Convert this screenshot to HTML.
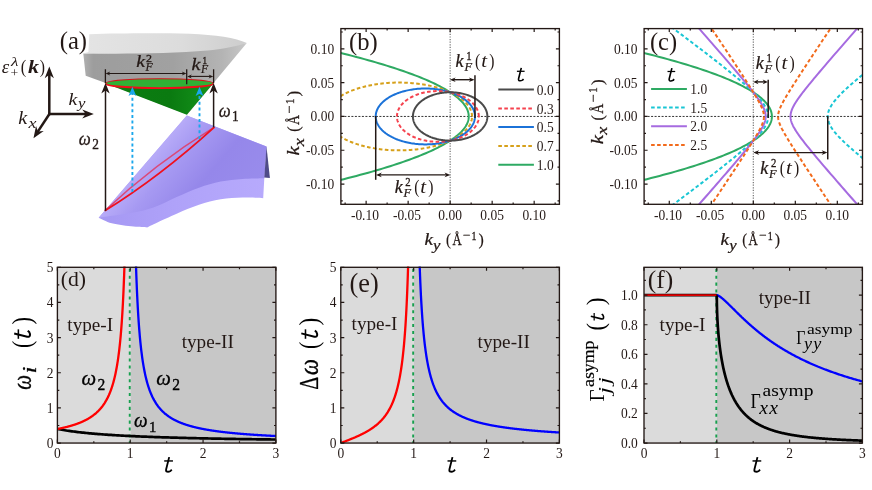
<!DOCTYPE html>
<html><head><meta charset="utf-8"><title>figure</title>
<style>html,body{margin:0;padding:0;background:#fff;}svg{display:block;font-family:"Liberation Serif",serif;}</style>
</head><body>
<svg width="872" height="490" viewBox="0 0 872 490">
<rect width="872" height="490" fill="#fff"/>
<g opacity="0.999">
<clipPath id="clipb"><rect x="340.9" y="28.6" width="218.5" height="175.7"/></clipPath>
<path d="M340.9 116.45 H559.4" stroke="#333" stroke-width="1" stroke-dasharray="2 1.5" fill="none"/>
<path d="M450.15 28.6 V204.3" stroke="#666" stroke-width="1.1" stroke-dasharray="1.2 1.4" fill="none"/>
<g clip-path="url(#clipb)" fill="none" stroke-width="2" stroke-linejoin="round">
<path d="M97.03 224.58 L104.43 223.5 L111.75 222.42 L119 221.33 L126.17 220.25 L133.27 219.17 L140.3 218.09 L147.25 217.01 L154.13 215.93 L160.93 214.85 L167.66 213.77 L174.31 212.68 L180.89 211.6 L187.4 210.52 L193.83 209.44 L200.18 208.36 L206.47 207.28 L212.67 206.2 L218.81 205.11 L224.87 204.03 L230.85 202.95 L236.76 201.87 L242.6 200.79 L248.36 199.71 L254.05 198.63 L259.66 197.55 L265.2 196.46 L270.66 195.38 L276.05 194.3 L281.37 193.22 L286.61 192.14 L291.78 191.06 L296.87 189.98 L301.89 188.9 L306.83 187.81 L311.7 186.73 L316.5 185.65 L321.22 184.57 L325.87 183.49 L330.44 182.41 L334.94 181.33 L339.36 180.25 L343.71 179.16 L347.98 178.08 L352.19 177 L356.31 175.92 L360.36 174.84 L364.34 173.76 L368.24 172.68 L372.07 171.6 L375.83 170.51 L379.51 169.43 L383.11 168.35 L386.64 167.27 L390.1 166.19 L393.48 165.11 L396.79 164.03 L400.03 162.95 L403.19 161.86 L406.27 160.78 L409.28 159.7 L412.22 158.62 L415.08 157.54 L417.87 156.46 L420.58 155.38 L423.22 154.29 L425.79 153.21 L428.28 152.13 L430.7 151.05 L433.04 149.97 L435.3 148.89 L437.5 147.81 L439.62 146.73 L441.66 145.64 L443.63 144.56 L445.53 143.48 L447.35 142.4 L449.1 141.32 L450.77 140.24 L452.37 139.16 L453.89 138.08 L455.34 136.99 L456.72 135.91 L458.02 134.83 L459.24 133.75 L460.4 132.67 L461.47 131.59 L462.48 130.51 L463.41 129.43 L464.26 128.34 L465.04 127.26 L465.75 126.18 L466.38 125.1 L466.94 124.02 L467.42 122.94 L467.83 121.86 L468.17 120.78 L468.43 119.69 L468.61 118.61 L468.72 117.53 L468.76 116.45 L468.72 115.37 L468.61 114.29 L468.43 113.21 L468.17 112.12 L467.83 111.04 L467.42 109.96 L466.94 108.88 L466.38 107.8 L465.75 106.72 L465.04 105.64 L464.26 104.56 L463.41 103.47 L462.48 102.39 L461.47 101.31 L460.4 100.23 L459.24 99.15 L458.02 98.07 L456.72 96.99 L455.34 95.91 L453.89 94.82 L452.37 93.74 L450.77 92.66 L449.1 91.58 L447.35 90.5 L445.53 89.42 L443.63 88.34 L441.66 87.26 L439.62 86.17 L437.5 85.09 L435.3 84.01 L433.04 82.93 L430.7 81.85 L428.28 80.77 L425.79 79.69 L423.22 78.61 L420.58 77.52 L417.87 76.44 L415.08 75.36 L412.22 74.28 L409.28 73.2 L406.27 72.12 L403.19 71.04 L400.03 69.95 L396.79 68.87 L393.48 67.79 L390.1 66.71 L386.64 65.63 L383.11 64.55 L379.51 63.47 L375.83 62.39 L372.07 61.3 L368.24 60.22 L364.34 59.14 L360.36 58.06 L356.31 56.98 L352.19 55.9 L347.98 54.82 L343.71 53.74 L339.36 52.65 L334.94 51.57 L330.44 50.49 L325.87 49.41 L321.22 48.33 L316.5 47.25 L311.7 46.17 L306.83 45.09 L301.89 44 L296.87 42.92 L291.78 41.84 L286.61 40.76 L281.37 39.68 L276.05 38.6 L270.66 37.52 L265.2 36.44 L259.66 35.35 L254.05 34.27 L248.36 33.19 L242.6 32.11 L236.76 31.03 L230.85 29.95 L224.87 28.87 L218.81 27.79 L212.67 26.7 L206.47 25.62 L200.18 24.54 L193.83 23.46 L187.4 22.38 L180.89 21.3 L174.31 20.22 L167.66 19.13 L160.93 18.05 L154.13 16.97 L147.25 15.89 L140.3 14.81 L133.27 13.73 L126.17 12.65 L119 11.57 L111.75 10.48 L104.43 9.4 L97.03 8.32" stroke="#2eaa63"/>
<path d="M472.04 116.45 L472.02 115.56 L471.94 114.68 L471.82 113.79 L471.64 112.91 L471.42 112.03 L471.15 111.15 L470.82 110.28 L470.45 109.41 L470.03 108.54 L469.56 107.68 L469.04 106.83 L468.47 105.98 L467.86 105.14 L467.2 104.31 L466.49 103.49 L465.73 102.67 L464.94 101.87 L464.09 101.07 L463.2 100.28 L462.27 99.51 L461.29 98.75 L460.27 98 L459.21 97.26 L458.11 96.54 L456.96 95.83 L455.78 95.13 L454.56 94.45 L453.3 93.78 L452 93.13 L450.67 92.49 L449.3 91.88 L447.9 91.27 L446.46 90.69 L444.99 90.12 L443.49 89.57 L441.96 89.04 L440.4 88.53 L438.81 88.04 L437.2 87.56 L435.55 87.11 L433.89 86.68 L432.2 86.26 L430.48 85.87 L428.75 85.5 L426.99 85.15 L425.22 84.82 L423.42 84.52 L421.62 84.23 L419.79 83.97 L417.95 83.73 L416.1 83.51 L414.24 83.31 L412.36 83.14 L410.48 82.99 L408.59 82.86 L406.69 82.76 L404.79 82.68 L402.88 82.62 L400.97 82.58 L399.06 82.57 L397.15 82.58 L395.24 82.62 L393.34 82.68 L391.43 82.76 L389.54 82.86 L387.65 82.99 L385.76 83.14 L383.89 83.31 L382.03 83.51 L380.17 83.73 L378.33 83.97 L376.51 84.23 L374.7 84.52 L372.91 84.82 L371.13 85.15 L369.38 85.5 L367.64 85.87 L365.93 86.26 L364.24 86.68 L362.57 87.11 L360.93 87.56 L359.31 88.04 L357.73 88.53 L356.16 89.04 L354.63 89.57 L353.13 90.12 L351.66 90.69 L350.23 91.27 L348.82 91.88 L347.46 92.49 L346.12 93.13 L344.83 93.78 L343.57 94.45 L342.34 95.13 L341.16 95.83 L340.02 96.54 L338.92 97.26 L337.85 98 L336.84 98.75 L335.86 99.51 L334.92 100.28 L334.04 101.07 L333.19 101.87 L332.39 102.67 L331.64 103.49 L330.93 104.31 L330.27 105.14 L329.65 105.98 L329.09 106.83 L328.57 107.68 L328.1 108.54 L327.68 109.41 L327.3 110.28 L326.98 111.15 L326.7 112.03 L326.48 112.91 L326.31 113.79 L326.18 114.68 L326.11 115.56 L326.08 116.45 L326.11 117.34 L326.18 118.22 L326.31 119.11 L326.48 119.99 L326.7 120.87 L326.98 121.75 L327.3 122.62 L327.68 123.49 L328.1 124.36 L328.57 125.22 L329.09 126.07 L329.65 126.92 L330.27 127.76 L330.93 128.59 L331.64 129.41 L332.39 130.23 L333.19 131.03 L334.04 131.83 L334.92 132.62 L335.86 133.39 L336.84 134.15 L337.85 134.9 L338.92 135.64 L340.02 136.36 L341.16 137.07 L342.34 137.77 L343.57 138.45 L344.83 139.12 L346.12 139.77 L347.46 140.41 L348.82 141.02 L350.23 141.63 L351.66 142.21 L353.13 142.78 L354.63 143.33 L356.16 143.86 L357.73 144.37 L359.31 144.86 L360.93 145.34 L362.57 145.79 L364.24 146.22 L365.93 146.64 L367.64 147.03 L369.38 147.4 L371.13 147.75 L372.91 148.08 L374.7 148.38 L376.51 148.67 L378.33 148.93 L380.17 149.17 L382.03 149.39 L383.89 149.59 L385.76 149.76 L387.65 149.91 L389.54 150.04 L391.43 150.14 L393.34 150.22 L395.24 150.28 L397.15 150.32 L399.06 150.33 L400.97 150.32 L402.88 150.28 L404.79 150.22 L406.69 150.14 L408.59 150.04 L410.48 149.91 L412.36 149.76 L414.24 149.59 L416.1 149.39 L417.95 149.17 L419.79 148.93 L421.62 148.67 L423.42 148.38 L425.22 148.08 L426.99 147.75 L428.75 147.4 L430.48 147.03 L432.2 146.64 L433.89 146.22 L435.55 145.79 L437.2 145.34 L438.81 144.86 L440.4 144.37 L441.96 143.86 L443.49 143.33 L444.99 142.78 L446.46 142.21 L447.9 141.63 L449.3 141.02 L450.67 140.41 L452 139.77 L453.3 139.12 L454.56 138.45 L455.78 137.77 L456.96 137.07 L458.11 136.36 L459.21 135.64 L460.27 134.9 L461.29 134.15 L462.27 133.39 L463.2 132.62 L464.09 131.83 L464.94 131.03 L465.73 130.23 L466.49 129.41 L467.2 128.59 L467.86 127.76 L468.47 126.92 L469.04 126.07 L469.56 125.22 L470.03 124.36 L470.45 123.49 L470.82 122.62 L471.15 121.75 L471.42 120.87 L471.64 119.99 L471.82 119.11 L471.94 118.22 L472.02 117.34 L472.04 116.45" stroke="#d6a01a" stroke-dasharray="3.6 2.4"/>
<path d="M474.96 116.45 L474.95 115.72 L474.9 114.99 L474.81 114.26 L474.69 113.53 L474.54 112.8 L474.35 112.08 L474.13 111.36 L473.88 110.64 L473.59 109.93 L473.27 109.22 L472.92 108.52 L472.53 107.82 L472.12 107.12 L471.67 106.44 L471.19 105.76 L470.67 105.09 L470.13 104.42 L469.55 103.77 L468.95 103.12 L468.32 102.48 L467.65 101.85 L466.96 101.23 L466.24 100.63 L465.49 100.03 L464.71 99.44 L463.9 98.87 L463.07 98.31 L462.22 97.76 L461.33 97.22 L460.43 96.7 L459.5 96.19 L458.54 95.69 L457.57 95.21 L456.57 94.74 L455.55 94.29 L454.51 93.85 L453.45 93.43 L452.37 93.02 L451.27 92.63 L450.15 92.26 L449.02 91.9 L447.87 91.56 L446.7 91.24 L445.52 90.93 L444.33 90.64 L443.12 90.37 L441.9 90.12 L440.67 89.88 L439.43 89.66 L438.18 89.47 L436.92 89.29 L435.65 89.12 L434.38 88.98 L433.1 88.86 L431.81 88.75 L430.52 88.67 L429.23 88.6 L427.93 88.55 L426.64 88.52 L425.34 88.51 L424.04 88.52 L422.74 88.55 L421.44 88.6 L420.15 88.67 L418.86 88.75 L417.57 88.86 L416.29 88.98 L415.02 89.12 L413.75 89.29 L412.49 89.47 L411.24 89.66 L410 89.88 L408.77 90.12 L407.55 90.37 L406.34 90.64 L405.15 90.93 L403.97 91.24 L402.81 91.56 L401.66 91.9 L400.52 92.26 L399.41 92.63 L398.31 93.02 L397.23 93.43 L396.17 93.85 L395.12 94.29 L394.1 94.74 L393.11 95.21 L392.13 95.69 L391.17 96.19 L390.24 96.7 L389.34 97.22 L388.46 97.76 L387.6 98.31 L386.77 98.87 L385.96 99.44 L385.19 100.03 L384.44 100.63 L383.71 101.23 L383.02 101.85 L382.36 102.48 L381.72 103.12 L381.12 103.77 L380.54 104.42 L380 105.09 L379.49 105.76 L379 106.44 L378.55 107.12 L378.14 107.82 L377.75 108.52 L377.4 109.22 L377.08 109.93 L376.79 110.64 L376.54 111.36 L376.32 112.08 L376.13 112.8 L375.98 113.53 L375.86 114.26 L375.78 114.99 L375.73 115.72 L375.71 116.45 L375.73 117.18 L375.78 117.91 L375.86 118.64 L375.98 119.37 L376.13 120.1 L376.32 120.82 L376.54 121.54 L376.79 122.26 L377.08 122.97 L377.4 123.68 L377.75 124.38 L378.14 125.08 L378.55 125.78 L379 126.46 L379.49 127.14 L380 127.81 L380.54 128.48 L381.12 129.13 L381.72 129.78 L382.36 130.42 L383.02 131.05 L383.71 131.67 L384.44 132.27 L385.19 132.87 L385.96 133.46 L386.77 134.03 L387.6 134.59 L388.46 135.14 L389.34 135.68 L390.24 136.2 L391.17 136.71 L392.13 137.21 L393.11 137.69 L394.1 138.16 L395.12 138.61 L396.17 139.05 L397.23 139.47 L398.31 139.88 L399.41 140.27 L400.52 140.64 L401.66 141 L402.81 141.34 L403.97 141.66 L405.15 141.97 L406.34 142.26 L407.55 142.53 L408.77 142.78 L410 143.02 L411.24 143.24 L412.49 143.43 L413.75 143.61 L415.02 143.78 L416.29 143.92 L417.57 144.04 L418.86 144.15 L420.15 144.23 L421.44 144.3 L422.74 144.35 L424.04 144.38 L425.34 144.39 L426.64 144.38 L427.93 144.35 L429.23 144.3 L430.52 144.23 L431.81 144.15 L433.1 144.04 L434.38 143.92 L435.65 143.78 L436.92 143.61 L438.18 143.43 L439.43 143.24 L440.67 143.02 L441.9 142.78 L443.12 142.53 L444.33 142.26 L445.52 141.97 L446.7 141.66 L447.87 141.34 L449.02 141 L450.15 140.64 L451.27 140.27 L452.37 139.88 L453.45 139.47 L454.51 139.05 L455.55 138.61 L456.57 138.16 L457.57 137.69 L458.54 137.21 L459.5 136.71 L460.43 136.2 L461.33 135.68 L462.22 135.14 L463.07 134.59 L463.9 134.03 L464.71 133.46 L465.49 132.87 L466.24 132.27 L466.96 131.67 L467.65 131.05 L468.32 130.42 L468.95 129.78 L469.55 129.13 L470.13 128.48 L470.67 127.81 L471.19 127.14 L471.67 126.46 L472.12 125.78 L472.53 125.08 L472.92 124.38 L473.27 123.68 L473.59 122.97 L473.88 122.26 L474.13 121.54 L474.35 120.82 L474.54 120.1 L474.69 119.37 L474.81 118.64 L474.9 117.91 L474.95 117.18 L474.96 116.45" stroke="#1b72d8"/>
<path d="M478.78 116.45 L478.77 115.79 L478.73 115.12 L478.66 114.46 L478.56 113.8 L478.43 113.14 L478.28 112.48 L478.1 111.83 L477.89 111.18 L477.65 110.53 L477.39 109.89 L477.1 109.25 L476.78 108.61 L476.44 107.98 L476.06 107.36 L475.67 106.74 L475.25 106.13 L474.8 105.53 L474.32 104.94 L473.82 104.35 L473.3 103.77 L472.75 103.2 L472.18 102.64 L471.59 102.08 L470.97 101.54 L470.33 101.01 L469.67 100.49 L468.98 99.98 L468.28 99.48 L467.55 98.99 L466.8 98.52 L466.03 98.05 L465.25 97.6 L464.44 97.16 L463.62 96.74 L462.78 96.33 L461.92 95.93 L461.05 95.55 L460.16 95.18 L459.25 94.83 L458.33 94.49 L457.4 94.16 L456.45 93.85 L455.49 93.56 L454.52 93.28 L453.53 93.02 L452.54 92.77 L451.53 92.54 L450.52 92.33 L449.5 92.13 L448.47 91.95 L447.43 91.79 L446.38 91.64 L445.33 91.51 L444.28 91.4 L443.22 91.31 L442.15 91.23 L441.09 91.17 L440.02 91.12 L438.95 91.1 L437.88 91.09 L436.81 91.1 L435.74 91.12 L434.67 91.17 L433.6 91.23 L432.54 91.31 L431.48 91.4 L430.43 91.51 L429.38 91.64 L428.33 91.79 L427.29 91.95 L426.26 92.13 L425.24 92.33 L424.23 92.54 L423.22 92.77 L422.23 93.02 L421.24 93.28 L420.27 93.56 L419.31 93.85 L418.36 94.16 L417.43 94.49 L416.51 94.83 L415.6 95.18 L414.71 95.55 L413.84 95.93 L412.98 96.33 L412.14 96.74 L411.32 97.16 L410.51 97.6 L409.72 98.05 L408.96 98.52 L408.21 98.99 L407.48 99.48 L406.78 99.98 L406.09 100.49 L405.43 101.01 L404.79 101.54 L404.17 102.08 L403.58 102.64 L403 103.2 L402.46 103.77 L401.93 104.35 L401.44 104.94 L400.96 105.53 L400.51 106.13 L400.09 106.74 L399.69 107.36 L399.32 107.98 L398.98 108.61 L398.66 109.25 L398.37 109.89 L398.11 110.53 L397.87 111.18 L397.66 111.83 L397.48 112.48 L397.33 113.14 L397.2 113.8 L397.1 114.46 L397.03 115.12 L396.99 115.79 L396.98 116.45 L396.99 117.11 L397.03 117.78 L397.1 118.44 L397.2 119.1 L397.33 119.76 L397.48 120.42 L397.66 121.07 L397.87 121.72 L398.11 122.37 L398.37 123.01 L398.66 123.65 L398.98 124.29 L399.32 124.92 L399.69 125.54 L400.09 126.16 L400.51 126.77 L400.96 127.37 L401.44 127.96 L401.93 128.55 L402.46 129.13 L403 129.7 L403.58 130.26 L404.17 130.82 L404.79 131.36 L405.43 131.89 L406.09 132.41 L406.78 132.92 L407.48 133.42 L408.21 133.91 L408.96 134.38 L409.72 134.85 L410.51 135.3 L411.32 135.74 L412.14 136.16 L412.98 136.57 L413.84 136.97 L414.71 137.35 L415.6 137.72 L416.51 138.07 L417.43 138.41 L418.36 138.74 L419.31 139.05 L420.27 139.34 L421.24 139.62 L422.23 139.88 L423.22 140.13 L424.23 140.36 L425.24 140.57 L426.26 140.77 L427.29 140.95 L428.33 141.11 L429.38 141.26 L430.43 141.39 L431.48 141.5 L432.54 141.59 L433.6 141.67 L434.67 141.73 L435.74 141.78 L436.81 141.8 L437.88 141.81 L438.95 141.8 L440.02 141.78 L441.09 141.73 L442.15 141.67 L443.22 141.59 L444.28 141.5 L445.33 141.39 L446.38 141.26 L447.43 141.11 L448.47 140.95 L449.5 140.77 L450.52 140.57 L451.53 140.36 L452.54 140.13 L453.53 139.88 L454.52 139.62 L455.49 139.34 L456.45 139.05 L457.4 138.74 L458.33 138.41 L459.25 138.07 L460.16 137.72 L461.05 137.35 L461.92 136.97 L462.78 136.57 L463.62 136.16 L464.44 135.74 L465.25 135.3 L466.03 134.85 L466.8 134.38 L467.55 133.91 L468.28 133.42 L468.98 132.92 L469.67 132.41 L470.33 131.89 L470.97 131.36 L471.59 130.82 L472.18 130.26 L472.75 129.7 L473.3 129.13 L473.82 128.55 L474.32 127.96 L474.8 127.37 L475.25 126.77 L475.67 126.16 L476.06 125.54 L476.44 124.92 L476.78 124.29 L477.1 123.65 L477.39 123.01 L477.65 122.37 L477.89 121.72 L478.1 121.07 L478.28 120.42 L478.43 119.76 L478.56 119.1 L478.66 118.44 L478.73 117.78 L478.77 117.11 L478.78 116.45" stroke="#f5424e" stroke-dasharray="3.6 2.4"/>
<path d="M487.37 116.45 L487.36 115.82 L487.32 115.18 L487.26 114.55 L487.17 113.92 L487.05 113.29 L486.91 112.67 L486.75 112.04 L486.56 111.42 L486.34 110.8 L486.1 110.19 L485.84 109.58 L485.55 108.97 L485.24 108.37 L484.9 107.78 L484.54 107.19 L484.15 106.61 L483.75 106.03 L483.31 105.47 L482.86 104.91 L482.38 104.35 L481.89 103.81 L481.37 103.27 L480.82 102.75 L480.26 102.23 L479.68 101.72 L479.08 101.22 L478.45 100.74 L477.81 100.26 L477.15 99.8 L476.47 99.34 L475.77 98.9 L475.06 98.47 L474.32 98.05 L473.57 97.65 L472.81 97.26 L472.03 96.88 L471.23 96.51 L470.42 96.16 L469.6 95.82 L468.76 95.5 L467.91 95.19 L467.05 94.89 L466.17 94.61 L465.29 94.35 L464.39 94.1 L463.49 93.86 L462.57 93.64 L461.65 93.44 L460.72 93.25 L459.78 93.08 L458.84 92.92 L457.89 92.79 L456.93 92.66 L455.97 92.55 L455.01 92.46 L454.04 92.39 L453.07 92.33 L452.1 92.29 L451.12 92.26 L450.15 92.26 L449.18 92.26 L448.2 92.29 L447.23 92.33 L446.26 92.39 L445.29 92.46 L444.33 92.55 L443.37 92.66 L442.41 92.79 L441.46 92.92 L440.52 93.08 L439.58 93.25 L438.65 93.44 L437.73 93.64 L436.81 93.86 L435.91 94.1 L435.01 94.35 L434.13 94.61 L433.25 94.89 L432.39 95.19 L431.54 95.5 L430.7 95.82 L429.88 96.16 L429.07 96.51 L428.27 96.88 L427.49 97.26 L426.73 97.65 L425.98 98.05 L425.24 98.47 L424.53 98.9 L423.83 99.34 L423.15 99.8 L422.49 100.26 L421.85 100.74 L421.22 101.22 L420.62 101.72 L420.04 102.23 L419.48 102.75 L418.93 103.27 L418.41 103.81 L417.92 104.35 L417.44 104.91 L416.99 105.47 L416.55 106.03 L416.15 106.61 L415.76 107.19 L415.4 107.78 L415.06 108.37 L414.75 108.97 L414.46 109.58 L414.2 110.19 L413.96 110.8 L413.74 111.42 L413.55 112.04 L413.39 112.67 L413.25 113.29 L413.13 113.92 L413.04 114.55 L412.98 115.18 L412.94 115.82 L412.93 116.45 L412.94 117.08 L412.98 117.72 L413.04 118.35 L413.13 118.98 L413.25 119.61 L413.39 120.23 L413.55 120.86 L413.74 121.48 L413.96 122.1 L414.2 122.71 L414.46 123.32 L414.75 123.93 L415.06 124.53 L415.4 125.12 L415.76 125.71 L416.15 126.29 L416.55 126.87 L416.99 127.43 L417.44 127.99 L417.92 128.55 L418.41 129.09 L418.93 129.63 L419.48 130.15 L420.04 130.67 L420.62 131.18 L421.22 131.68 L421.85 132.16 L422.49 132.64 L423.15 133.1 L423.83 133.56 L424.53 134 L425.24 134.43 L425.98 134.85 L426.73 135.25 L427.49 135.64 L428.27 136.02 L429.07 136.39 L429.88 136.74 L430.7 137.08 L431.54 137.4 L432.39 137.71 L433.25 138.01 L434.13 138.29 L435.01 138.55 L435.91 138.8 L436.81 139.04 L437.73 139.26 L438.65 139.46 L439.58 139.65 L440.52 139.82 L441.46 139.98 L442.41 140.11 L443.37 140.24 L444.33 140.35 L445.29 140.44 L446.26 140.51 L447.23 140.57 L448.2 140.61 L449.18 140.64 L450.15 140.64 L451.12 140.64 L452.1 140.61 L453.07 140.57 L454.04 140.51 L455.01 140.44 L455.97 140.35 L456.93 140.24 L457.89 140.11 L458.84 139.98 L459.78 139.82 L460.72 139.65 L461.65 139.46 L462.57 139.26 L463.49 139.04 L464.39 138.8 L465.29 138.55 L466.17 138.29 L467.05 138.01 L467.91 137.71 L468.76 137.4 L469.6 137.08 L470.42 136.74 L471.23 136.39 L472.03 136.02 L472.81 135.64 L473.57 135.25 L474.32 134.85 L475.06 134.43 L475.77 134 L476.47 133.56 L477.15 133.1 L477.81 132.64 L478.45 132.16 L479.08 131.68 L479.68 131.18 L480.26 130.67 L480.82 130.15 L481.37 129.63 L481.89 129.09 L482.38 128.55 L482.86 127.99 L483.31 127.43 L483.75 126.87 L484.15 126.29 L484.54 125.71 L484.9 125.12 L485.24 124.53 L485.55 123.93 L485.84 123.32 L486.1 122.71 L486.34 122.1 L486.56 121.48 L486.75 120.86 L486.91 120.23 L487.05 119.61 L487.17 118.98 L487.26 118.35 L487.32 117.72 L487.36 117.08 L487.37 116.45" stroke="#4a4a4a"/>
</g>
<path d="M366.13 204.3 v-3.5M366.13 28.6 v3.5M408.14 204.3 v-3.5M408.14 28.6 v3.5M450.15 204.3 v-3.5M450.15 28.6 v3.5M492.16 204.3 v-3.5M492.16 28.6 v3.5M534.17 204.3 v-3.5M534.17 28.6 v3.5M345.12 204.3 v-1.9M345.12 28.6 v1.9M387.13 204.3 v-1.9M387.13 28.6 v1.9M429.14 204.3 v-1.9M429.14 28.6 v1.9M471.15 204.3 v-1.9M471.15 28.6 v1.9M513.16 204.3 v-1.9M513.16 28.6 v1.9M555.17 204.3 v-1.9M555.17 28.6 v1.9M340.9 184.03 h3.5M559.4 184.03 h-3.5M340.9 150.24 h3.5M559.4 150.24 h-3.5M340.9 116.45 h3.5M559.4 116.45 h-3.5M340.9 82.66 h3.5M559.4 82.66 h-3.5M340.9 48.87 h3.5M559.4 48.87 h-3.5M340.9 200.93 h1.9M559.4 200.93 h-1.9M340.9 167.13 h1.9M559.4 167.13 h-1.9M340.9 133.34 h1.9M559.4 133.34 h-1.9M340.9 99.56 h1.9M559.4 99.56 h-1.9M340.9 65.77 h1.9M559.4 65.77 h-1.9M340.9 31.98 h1.9M559.4 31.98 h-1.9" stroke="#231815" stroke-width="1.2" fill="none"/>
<rect x="340.9" y="28.6" width="218.5" height="175.7" fill="none" stroke="#231815" stroke-width="1.35"/>
<text transform="translate(364.93 220.1) scale(0.870 1)" font-size="15.5" fill="#231815" text-anchor="middle">-0.10</text>
<text transform="translate(334.2 189.03) scale(0.870 1)" font-size="15.5" fill="#231815" text-anchor="end">-0.10</text>
<text transform="translate(406.94 220.1) scale(0.870 1)" font-size="15.5" fill="#231815" text-anchor="middle">-0.05</text>
<text transform="translate(334.2 155.24) scale(0.870 1)" font-size="15.5" fill="#231815" text-anchor="end">-0.05</text>
<text transform="translate(450.15 220.1) scale(0.870 1)" font-size="15.5" fill="#231815" text-anchor="middle">0.00</text>
<text transform="translate(334.2 121.45) scale(0.870 1)" font-size="15.5" fill="#231815" text-anchor="end">0.00</text>
<text transform="translate(492.16 220.1) scale(0.870 1)" font-size="15.5" fill="#231815" text-anchor="middle">0.05</text>
<text transform="translate(334.2 87.66) scale(0.870 1)" font-size="15.5" fill="#231815" text-anchor="end">0.05</text>
<text transform="translate(534.17 220.1) scale(0.870 1)" font-size="15.5" fill="#231815" text-anchor="middle">0.10</text>
<text transform="translate(334.2 53.87) scale(0.870 1)" font-size="15.5" fill="#231815" text-anchor="end">0.10</text>
<clipPath id="clipc"><rect x="644.1" y="28.6" width="218.4" height="175.7"/></clipPath>
<path d="M644.1 116.45 H862.5" stroke="#333" stroke-width="1" stroke-dasharray="2 1.5" fill="none"/>
<path d="M753.3 28.6 V204.3" stroke="#666" stroke-width="1.1" stroke-dasharray="1.2 1.4" fill="none"/>
<g clip-path="url(#clipc)" fill="none" stroke-width="2" stroke-linejoin="round">
<path d="M400.18 224.58 L407.58 223.5 L414.9 222.42 L422.15 221.33 L429.32 220.25 L436.42 219.17 L443.45 218.09 L450.4 217.01 L457.28 215.93 L464.08 214.85 L470.81 213.77 L477.46 212.68 L484.04 211.6 L490.55 210.52 L496.98 209.44 L503.33 208.36 L509.62 207.28 L515.82 206.2 L521.96 205.11 L528.02 204.03 L534 202.95 L539.91 201.87 L545.75 200.79 L551.51 199.71 L557.2 198.63 L562.81 197.55 L568.35 196.46 L573.81 195.38 L579.2 194.3 L584.52 193.22 L589.76 192.14 L594.93 191.06 L600.02 189.98 L605.04 188.9 L609.98 187.81 L614.85 186.73 L619.65 185.65 L624.37 184.57 L629.02 183.49 L633.59 182.41 L638.09 181.33 L642.51 180.25 L646.86 179.16 L651.13 178.08 L655.34 177 L659.46 175.92 L663.51 174.84 L667.49 173.76 L671.39 172.68 L675.22 171.6 L678.98 170.51 L682.66 169.43 L686.26 168.35 L689.79 167.27 L693.25 166.19 L696.63 165.11 L699.94 164.03 L703.18 162.95 L706.34 161.86 L709.42 160.78 L712.43 159.7 L715.37 158.62 L718.23 157.54 L721.02 156.46 L723.73 155.38 L726.37 154.29 L728.94 153.21 L731.43 152.13 L733.85 151.05 L736.19 149.97 L738.45 148.89 L740.65 147.81 L742.77 146.73 L744.81 145.64 L746.78 144.56 L748.68 143.48 L750.5 142.4 L752.25 141.32 L753.92 140.24 L755.52 139.16 L757.04 138.08 L758.49 136.99 L759.87 135.91 L761.17 134.83 L762.39 133.75 L763.55 132.67 L764.62 131.59 L765.63 130.51 L766.56 129.43 L767.41 128.34 L768.19 127.26 L768.9 126.18 L769.53 125.1 L770.09 124.02 L770.57 122.94 L770.98 121.86 L771.32 120.78 L771.58 119.69 L771.76 118.61 L771.87 117.53 L771.91 116.45 L771.87 115.37 L771.76 114.29 L771.58 113.21 L771.32 112.12 L770.98 111.04 L770.57 109.96 L770.09 108.88 L769.53 107.8 L768.9 106.72 L768.19 105.64 L767.41 104.56 L766.56 103.47 L765.63 102.39 L764.62 101.31 L763.55 100.23 L762.39 99.15 L761.17 98.07 L759.87 96.99 L758.49 95.91 L757.04 94.82 L755.52 93.74 L753.92 92.66 L752.25 91.58 L750.5 90.5 L748.68 89.42 L746.78 88.34 L744.81 87.26 L742.77 86.17 L740.65 85.09 L738.45 84.01 L736.19 82.93 L733.85 81.85 L731.43 80.77 L728.94 79.69 L726.37 78.61 L723.73 77.52 L721.02 76.44 L718.23 75.36 L715.37 74.28 L712.43 73.2 L709.42 72.12 L706.34 71.04 L703.18 69.95 L699.94 68.87 L696.63 67.79 L693.25 66.71 L689.79 65.63 L686.26 64.55 L682.66 63.47 L678.98 62.39 L675.22 61.3 L671.39 60.22 L667.49 59.14 L663.51 58.06 L659.46 56.98 L655.34 55.9 L651.13 54.82 L646.86 53.74 L642.51 52.65 L638.09 51.57 L633.59 50.49 L629.02 49.41 L624.37 48.33 L619.65 47.25 L614.85 46.17 L609.98 45.09 L605.04 44 L600.02 42.92 L594.93 41.84 L589.76 40.76 L584.52 39.68 L579.2 38.6 L573.81 37.52 L568.35 36.44 L562.81 35.35 L557.2 34.27 L551.51 33.19 L545.75 32.11 L539.91 31.03 L534 29.95 L528.02 28.87 L521.96 27.79 L515.82 26.7 L509.62 25.62 L503.33 24.54 L496.98 23.46 L490.55 22.38 L484.04 21.3 L477.46 20.22 L470.81 19.13 L464.08 18.05 L457.28 16.97 L450.4 15.89 L443.45 14.81 L436.42 13.73 L429.32 12.65 L422.15 11.57 L414.9 10.48 L407.58 9.4 L400.18 8.32" stroke="#2eaa63"/>
<path d="M604.22 255.58 L611.73 250.05 L618.93 244.75 L625.85 239.64 L632.5 234.74 L638.88 230.02 L645 225.48 L650.88 221.12 L656.53 216.93 L661.95 212.9 L667.15 209.02 L672.14 205.29 L676.93 201.7 L681.53 198.25 L685.94 194.93 L690.17 191.74 L694.23 188.66 L698.12 185.71 L701.86 182.86 L705.43 180.12 L708.87 177.48 L712.15 174.94 L715.31 172.49 L718.33 170.13 L721.22 167.86 L723.99 165.67 L726.64 163.55 L729.17 161.52 L731.6 159.55 L733.92 157.66 L736.14 155.83 L738.25 154.06 L740.28 152.36 L742.21 150.71 L744.05 149.11 L745.8 147.57 L747.48 146.08 L749.07 144.64 L750.58 143.24 L752.02 141.88 L753.38 140.57 L754.67 139.29 L755.9 138.05 L757.05 136.84 L758.14 135.67 L759.17 134.53 L760.13 133.41 L761.03 132.33 L761.88 131.26 L762.67 130.23 L763.4 129.21 L764.07 128.22 L764.69 127.24 L765.26 126.28 L765.77 125.34 L766.24 124.41 L766.65 123.49 L767.01 122.59 L767.33 121.69 L767.59 120.81 L767.81 119.93 L767.97 119.05 L768.09 118.18 L768.16 117.32 L768.19 116.45 L768.16 115.58 L768.09 114.72 L767.97 113.85 L767.81 112.97 L767.59 112.09 L767.33 111.21 L767.01 110.31 L766.65 109.41 L766.24 108.49 L765.77 107.56 L765.26 106.62 L764.69 105.66 L764.07 104.68 L763.4 103.69 L762.67 102.67 L761.88 101.64 L761.03 100.57 L760.13 99.49 L759.17 98.37 L758.14 97.23 L757.05 96.06 L755.9 94.85 L754.67 93.61 L753.38 92.33 L752.02 91.02 L750.58 89.66 L749.07 88.26 L747.48 86.82 L745.8 85.33 L744.05 83.79 L742.21 82.19 L740.28 80.54 L738.25 78.84 L736.14 77.07 L733.92 75.24 L731.6 73.35 L729.17 71.38 L726.64 69.35 L723.99 67.23 L721.22 65.04 L718.33 62.77 L715.31 60.41 L712.15 57.96 L708.87 55.42 L705.43 52.78 L701.86 50.04 L698.12 47.19 L694.23 44.24 L690.17 41.16 L685.94 37.97 L681.53 34.65 L676.93 31.2 L672.14 27.61 L667.15 23.88 L661.95 20 L656.53 15.97 L650.88 11.78 L645 7.42 L638.88 2.88 L632.5 -1.84 L625.85 -6.74 L618.93 -11.85 L611.73 -17.15 L604.22 -22.68" stroke="#19c6d4" stroke-dasharray="3.6 2.4"/>
<path d="M963.43 234.74 L957.05 230.02 L950.93 225.48 L945.05 221.12 L939.4 216.93 L933.98 212.9 L928.78 209.02 L923.79 205.29 L919 201.7 L914.4 198.25 L909.99 194.93 L905.76 191.74 L901.7 188.66 L897.81 185.71 L894.07 182.86 L890.5 180.12 L887.06 177.48 L883.78 174.94 L880.62 172.49 L877.61 170.13 L874.71 167.86 L871.94 165.67 L869.29 163.55 L866.76 161.52 L864.33 159.55 L862.01 157.66 L859.79 155.83 L857.68 154.06 L855.65 152.36 L853.72 150.71 L851.88 149.11 L850.13 147.57 L848.45 146.08 L846.86 144.64 L845.35 143.24 L843.91 141.88 L842.55 140.57 L841.26 139.29 L840.03 138.05 L838.88 136.84 L837.79 135.67 L836.76 134.53 L835.8 133.41 L834.9 132.33 L834.05 131.26 L833.26 130.23 L832.53 129.21 L831.86 128.22 L831.24 127.24 L830.67 126.28 L830.16 125.34 L829.69 124.41 L829.28 123.49 L828.92 122.59 L828.6 121.69 L828.34 120.81 L828.12 119.93 L827.96 119.05 L827.84 118.18 L827.77 117.32 L827.74 116.45 L827.77 115.58 L827.84 114.72 L827.96 113.85 L828.12 112.97 L828.34 112.09 L828.6 111.21 L828.92 110.31 L829.28 109.41 L829.69 108.49 L830.16 107.56 L830.67 106.62 L831.24 105.66 L831.86 104.68 L832.53 103.69 L833.26 102.67 L834.05 101.64 L834.9 100.57 L835.8 99.49 L836.76 98.37 L837.79 97.23 L838.88 96.06 L840.03 94.85 L841.26 93.61 L842.55 92.33 L843.91 91.02 L845.35 89.66 L846.86 88.26 L848.45 86.82 L850.13 85.33 L851.88 83.79 L853.72 82.19 L855.65 80.54 L857.68 78.84 L859.79 77.07 L862.01 75.24 L864.33 73.35 L866.76 71.38 L869.29 69.35 L871.94 67.23 L874.71 65.04 L877.61 62.77 L880.62 60.41 L883.78 57.96 L887.06 55.42 L890.5 52.78 L894.07 50.04 L897.81 47.19 L901.7 44.24 L905.76 41.16 L909.99 37.97 L914.4 34.65 L919 31.2 L923.79 27.61 L928.78 23.88 L933.98 20 L939.4 15.97 L945.05 11.78 L950.93 7.42 L957.05 2.88 L963.43 -1.84" stroke="#19c6d4" stroke-dasharray="3.6 2.4"/>
<path d="M653.2 256.38 L658.08 250.87 L662.76 245.57 L667.26 240.47 L671.57 235.58 L675.72 230.88 L679.71 226.36 L683.53 222.01 L687.21 217.83 L690.74 213.82 L694.13 209.96 L697.39 206.26 L700.51 202.69 L703.52 199.26 L706.4 195.97 L709.17 192.8 L711.83 189.76 L714.38 186.83 L716.83 184.02 L719.18 181.31 L721.44 178.71 L723.61 176.2 L725.69 173.8 L727.68 171.48 L729.6 169.25 L731.44 167.11 L733.2 165.05 L734.89 163.06 L736.51 161.15 L738.07 159.32 L739.56 157.55 L740.99 155.84 L742.36 154.2 L743.67 152.62 L744.93 151.1 L746.14 149.63 L747.29 148.22 L748.39 146.86 L749.45 145.54 L750.46 144.27 L751.43 143.05 L752.35 141.87 L753.23 140.73 L754.08 139.63 L754.88 138.56 L755.65 137.53 L756.38 136.54 L757.08 135.58 L757.74 134.64 L758.37 133.74 L758.97 132.87 L759.54 132.02 L760.08 131.19 L760.58 130.39 L761.07 129.61 L761.52 128.86 L761.95 128.12 L762.35 127.4 L762.73 126.7 L763.08 126.01 L763.41 125.34 L763.71 124.69 L763.99 124.05 L764.25 123.42 L764.49 122.8 L764.7 122.19 L764.89 121.59 L765.07 121 L765.22 120.41 L765.35 119.83 L765.46 119.26 L765.55 118.69 L765.62 118.13 L765.67 117.57 L765.7 117.01 L765.71 116.45 L765.7 115.89 L765.67 115.33 L765.62 114.77 L765.55 114.21 L765.46 113.64 L765.35 113.07 L765.22 112.49 L765.07 111.9 L764.89 111.31 L764.7 110.71 L764.49 110.1 L764.25 109.48 L763.99 108.85 L763.71 108.21 L763.41 107.56 L763.08 106.89 L762.73 106.2 L762.35 105.5 L761.95 104.78 L761.52 104.04 L761.07 103.29 L760.58 102.51 L760.08 101.71 L759.54 100.88 L758.97 100.03 L758.37 99.16 L757.74 98.26 L757.08 97.32 L756.38 96.36 L755.65 95.37 L754.88 94.34 L754.08 93.27 L753.23 92.17 L752.35 91.03 L751.43 89.85 L750.46 88.63 L749.45 87.36 L748.39 86.04 L747.29 84.68 L746.14 83.27 L744.93 81.8 L743.67 80.28 L742.36 78.7 L740.99 77.06 L739.56 75.35 L738.07 73.58 L736.51 71.75 L734.89 69.84 L733.2 67.85 L731.44 65.79 L729.6 63.65 L727.68 61.42 L725.69 59.1 L723.61 56.7 L721.44 54.19 L719.18 51.59 L716.83 48.88 L714.38 46.07 L711.83 43.14 L709.17 40.1 L706.4 36.93 L703.52 33.64 L700.51 30.21 L697.39 26.64 L694.13 22.94 L690.74 19.08 L687.21 15.07 L683.53 10.89 L679.71 6.54 L675.72 2.02 L671.57 -2.68 L667.26 -7.57 L662.76 -12.67 L658.08 -17.97 L653.2 -23.48" stroke="#a66be0"/>
<path d="M903.02 256.38 L898.15 250.87 L893.47 245.57 L888.97 240.47 L884.65 235.58 L880.51 230.88 L876.52 226.36 L872.69 222.01 L869.02 217.83 L865.49 213.82 L862.1 209.96 L858.84 206.26 L855.71 202.69 L852.71 199.26 L849.83 195.97 L847.06 192.8 L844.4 189.76 L841.85 186.83 L839.4 184.02 L837.05 181.31 L834.79 178.71 L832.62 176.2 L830.54 173.8 L828.54 171.48 L826.63 169.25 L824.79 167.11 L823.03 165.05 L821.34 163.06 L819.72 161.15 L818.16 159.32 L816.67 157.55 L815.24 155.84 L813.87 154.2 L812.56 152.62 L811.3 151.1 L810.09 149.63 L808.94 148.22 L807.83 146.86 L806.78 145.54 L805.77 144.27 L804.8 143.05 L803.88 141.87 L802.99 140.73 L802.15 139.63 L801.35 138.56 L800.58 137.53 L799.85 136.54 L799.15 135.58 L798.49 134.64 L797.86 133.74 L797.26 132.87 L796.69 132.02 L796.15 131.19 L795.64 130.39 L795.16 129.61 L794.71 128.86 L794.28 128.12 L793.88 127.4 L793.5 126.7 L793.15 126.01 L792.82 125.34 L792.52 124.69 L792.24 124.05 L791.98 123.42 L791.74 122.8 L791.53 122.19 L791.33 121.59 L791.16 121 L791.01 120.41 L790.88 119.83 L790.77 119.26 L790.68 118.69 L790.61 118.13 L790.56 117.57 L790.53 117.01 L790.52 116.45 L790.53 115.89 L790.56 115.33 L790.61 114.77 L790.68 114.21 L790.77 113.64 L790.88 113.07 L791.01 112.49 L791.16 111.9 L791.33 111.31 L791.53 110.71 L791.74 110.1 L791.98 109.48 L792.24 108.85 L792.52 108.21 L792.82 107.56 L793.15 106.89 L793.5 106.2 L793.88 105.5 L794.28 104.78 L794.71 104.04 L795.16 103.29 L795.64 102.51 L796.15 101.71 L796.69 100.88 L797.26 100.03 L797.86 99.16 L798.49 98.26 L799.15 97.32 L799.85 96.36 L800.58 95.37 L801.35 94.34 L802.15 93.27 L802.99 92.17 L803.88 91.03 L804.8 89.85 L805.77 88.63 L806.78 87.36 L807.83 86.04 L808.94 84.68 L810.09 83.27 L811.3 81.8 L812.56 80.28 L813.87 78.7 L815.24 77.06 L816.67 75.35 L818.16 73.58 L819.72 71.75 L821.34 69.84 L823.03 67.85 L824.79 65.79 L826.63 63.65 L828.54 61.42 L830.54 59.1 L832.62 56.7 L834.79 54.19 L837.05 51.59 L839.4 48.88 L841.85 46.07 L844.4 43.14 L847.06 40.1 L849.83 36.93 L852.71 33.64 L855.71 30.21 L858.84 26.64 L862.1 22.94 L865.49 19.08 L869.02 15.07 L872.69 10.89 L876.52 6.54 L880.51 2.02 L884.65 -2.68 L888.97 -7.57 L893.47 -12.67 L898.15 -17.97 L903.02 -23.48" stroke="#a66be0"/>
<path d="M676.68 256.56 L680.37 251.05 L683.92 245.75 L687.32 240.67 L690.59 235.78 L693.73 231.08 L696.75 226.57 L699.65 222.23 L702.43 218.06 L705.11 214.05 L707.68 210.2 L710.14 206.5 L712.51 202.95 L714.79 199.53 L716.98 196.25 L719.08 193.09 L721.1 190.06 L723.03 187.14 L724.89 184.34 L726.68 181.64 L728.4 179.05 L730.05 176.56 L731.63 174.17 L733.15 171.87 L734.6 169.65 L736 167.53 L737.35 165.48 L738.64 163.51 L739.88 161.62 L741.07 159.8 L742.21 158.05 L743.3 156.37 L744.35 154.75 L745.36 153.19 L746.33 151.69 L747.25 150.24 L748.14 148.85 L748.99 147.52 L749.81 146.23 L750.59 144.99 L751.34 143.79 L752.06 142.64 L752.75 141.53 L753.41 140.46 L754.04 139.43 L754.64 138.44 L755.22 137.48 L755.78 136.56 L756.3 135.66 L756.81 134.8 L757.29 133.97 L757.75 133.17 L758.19 132.39 L758.61 131.64 L759 130.91 L759.38 130.2 L759.74 129.52 L760.08 128.86 L760.41 128.22 L760.72 127.59 L761.01 126.99 L761.28 126.4 L761.54 125.83 L761.79 125.27 L762.02 124.73 L762.23 124.2 L762.43 123.68 L762.62 123.17 L762.79 122.68 L762.95 122.19 L763.1 121.72 L763.24 121.25 L763.36 120.79 L763.47 120.33 L763.57 119.89 L763.65 119.45 L763.73 119.01 L763.79 118.58 L763.84 118.15 L763.88 117.72 L763.91 117.3 L763.93 116.87 L763.93 116.45 L763.93 116.03 L763.91 115.6 L763.88 115.18 L763.84 114.75 L763.79 114.32 L763.73 113.89 L763.65 113.45 L763.57 113.01 L763.47 112.57 L763.36 112.11 L763.24 111.65 L763.1 111.18 L762.95 110.71 L762.79 110.22 L762.62 109.73 L762.43 109.22 L762.23 108.7 L762.02 108.17 L761.79 107.63 L761.54 107.07 L761.28 106.5 L761.01 105.91 L760.72 105.31 L760.41 104.68 L760.08 104.04 L759.74 103.38 L759.38 102.7 L759 101.99 L758.61 101.26 L758.19 100.51 L757.75 99.73 L757.29 98.93 L756.81 98.1 L756.3 97.24 L755.78 96.34 L755.22 95.42 L754.64 94.46 L754.04 93.47 L753.41 92.44 L752.75 91.37 L752.06 90.26 L751.34 89.11 L750.59 87.91 L749.81 86.67 L748.99 85.38 L748.14 84.05 L747.25 82.66 L746.33 81.21 L745.36 79.71 L744.35 78.15 L743.3 76.53 L742.21 74.85 L741.07 73.1 L739.88 71.28 L738.64 69.39 L737.35 67.42 L736 65.37 L734.6 63.25 L733.15 61.03 L731.63 58.73 L730.05 56.34 L728.4 53.85 L726.68 51.26 L724.89 48.56 L723.03 45.76 L721.1 42.84 L719.08 39.81 L716.98 36.65 L714.79 33.37 L712.51 29.95 L710.14 26.4 L707.68 22.7 L705.11 18.85 L702.43 14.84 L699.65 10.67 L696.75 6.33 L693.73 1.82 L690.59 -2.88 L687.32 -7.77 L683.92 -12.85 L680.37 -18.15 L676.68 -23.66" stroke="#f26a1b" stroke-dasharray="3.6 2.4"/>
<path d="M865.36 256.56 L861.68 251.05 L858.13 245.75 L854.73 240.67 L851.46 235.78 L848.32 231.08 L845.3 226.57 L842.4 222.23 L839.62 218.06 L836.94 214.05 L834.37 210.2 L831.9 206.5 L829.53 202.95 L827.26 199.53 L825.07 196.25 L822.97 193.09 L820.95 190.06 L819.01 187.14 L817.15 184.34 L815.37 181.64 L813.65 179.05 L812 176.56 L810.42 174.17 L808.9 171.87 L807.44 169.65 L806.04 167.53 L804.7 165.48 L803.41 163.51 L802.17 161.62 L800.98 159.8 L799.84 158.05 L798.75 156.37 L797.7 154.75 L796.69 153.19 L795.72 151.69 L794.8 150.24 L793.91 148.85 L793.06 147.52 L792.24 146.23 L791.46 144.99 L790.7 143.79 L789.99 142.64 L789.3 141.53 L788.64 140.46 L788.01 139.43 L787.4 138.44 L786.83 137.48 L786.27 136.56 L785.75 135.66 L785.24 134.8 L784.76 133.97 L784.3 133.17 L783.86 132.39 L783.44 131.64 L783.05 130.91 L782.67 130.2 L782.31 129.52 L781.96 128.86 L781.64 128.22 L781.33 127.59 L781.04 126.99 L780.77 126.4 L780.51 125.83 L780.26 125.27 L780.03 124.73 L779.82 124.2 L779.62 123.68 L779.43 123.17 L779.25 122.68 L779.09 122.19 L778.95 121.72 L778.81 121.25 L778.69 120.79 L778.58 120.33 L778.48 119.89 L778.39 119.45 L778.32 119.01 L778.26 118.58 L778.2 118.15 L778.17 117.72 L778.14 117.3 L778.12 116.87 L778.11 116.45 L778.12 116.03 L778.14 115.6 L778.17 115.18 L778.2 114.75 L778.26 114.32 L778.32 113.89 L778.39 113.45 L778.48 113.01 L778.58 112.57 L778.69 112.11 L778.81 111.65 L778.95 111.18 L779.09 110.71 L779.25 110.22 L779.43 109.73 L779.62 109.22 L779.82 108.7 L780.03 108.17 L780.26 107.63 L780.51 107.07 L780.77 106.5 L781.04 105.91 L781.33 105.31 L781.64 104.68 L781.96 104.04 L782.31 103.38 L782.67 102.7 L783.05 101.99 L783.44 101.26 L783.86 100.51 L784.3 99.73 L784.76 98.93 L785.24 98.1 L785.75 97.24 L786.27 96.34 L786.83 95.42 L787.4 94.46 L788.01 93.47 L788.64 92.44 L789.3 91.37 L789.99 90.26 L790.7 89.11 L791.46 87.91 L792.24 86.67 L793.06 85.38 L793.91 84.05 L794.8 82.66 L795.72 81.21 L796.69 79.71 L797.7 78.15 L798.75 76.53 L799.84 74.85 L800.98 73.1 L802.17 71.28 L803.41 69.39 L804.7 67.42 L806.04 65.37 L807.44 63.25 L808.9 61.03 L810.42 58.73 L812 56.34 L813.65 53.85 L815.37 51.26 L817.15 48.56 L819.01 45.76 L820.95 42.84 L822.97 39.81 L825.07 36.65 L827.26 33.37 L829.53 29.95 L831.9 26.4 L834.37 22.7 L836.94 18.85 L839.62 14.84 L842.4 10.67 L845.3 6.33 L848.32 1.82 L851.46 -2.88 L854.73 -7.77 L858.13 -12.85 L861.68 -18.15 L865.36 -23.66" stroke="#f26a1b" stroke-dasharray="3.6 2.4"/>
</g>
<path d="M669.28 204.3 v-3.5M669.28 28.6 v3.5M711.29 204.3 v-3.5M711.29 28.6 v3.5M753.3 204.3 v-3.5M753.3 28.6 v3.5M795.31 204.3 v-3.5M795.31 28.6 v3.5M837.32 204.3 v-3.5M837.32 28.6 v3.5M648.27 204.3 v-1.9M648.27 28.6 v1.9M690.28 204.3 v-1.9M690.28 28.6 v1.9M732.29 204.3 v-1.9M732.29 28.6 v1.9M774.3 204.3 v-1.9M774.3 28.6 v1.9M816.31 204.3 v-1.9M816.31 28.6 v1.9M858.32 204.3 v-1.9M858.32 28.6 v1.9M644.1 184.03 h3.5M862.5 184.03 h-3.5M644.1 150.24 h3.5M862.5 150.24 h-3.5M644.1 116.45 h3.5M862.5 116.45 h-3.5M644.1 82.66 h3.5M862.5 82.66 h-3.5M644.1 48.87 h3.5M862.5 48.87 h-3.5M644.1 200.93 h1.9M862.5 200.93 h-1.9M644.1 167.13 h1.9M862.5 167.13 h-1.9M644.1 133.34 h1.9M862.5 133.34 h-1.9M644.1 99.56 h1.9M862.5 99.56 h-1.9M644.1 65.77 h1.9M862.5 65.77 h-1.9M644.1 31.98 h1.9M862.5 31.98 h-1.9" stroke="#231815" stroke-width="1.2" fill="none"/>
<rect x="644.1" y="28.6" width="218.4" height="175.7" fill="none" stroke="#231815" stroke-width="1.35"/>
<text transform="translate(668.08 220.1) scale(0.870 1)" font-size="15.5" fill="#231815" text-anchor="middle">-0.10</text>
<text transform="translate(637.6 189.03) scale(0.870 1)" font-size="15.5" fill="#231815" text-anchor="end">-0.10</text>
<text transform="translate(710.09 220.1) scale(0.870 1)" font-size="15.5" fill="#231815" text-anchor="middle">-0.05</text>
<text transform="translate(637.6 155.24) scale(0.870 1)" font-size="15.5" fill="#231815" text-anchor="end">-0.05</text>
<text transform="translate(753.3 220.1) scale(0.870 1)" font-size="15.5" fill="#231815" text-anchor="middle">0.00</text>
<text transform="translate(637.6 121.45) scale(0.870 1)" font-size="15.5" fill="#231815" text-anchor="end">0.00</text>
<text transform="translate(795.31 220.1) scale(0.870 1)" font-size="15.5" fill="#231815" text-anchor="middle">0.05</text>
<text transform="translate(637.6 87.66) scale(0.870 1)" font-size="15.5" fill="#231815" text-anchor="end">0.05</text>
<text transform="translate(837.32 220.1) scale(0.870 1)" font-size="15.5" fill="#231815" text-anchor="middle">0.10</text>
<text transform="translate(637.6 53.87) scale(0.870 1)" font-size="15.5" fill="#231815" text-anchor="end">0.10</text>
<text transform="translate(349 49.6) scale(0.985 1)" font-size="25" fill="#231815">(b)</text>
<text transform="translate(649.9 49.6) scale(0.980 1)" font-size="25" fill="#231815">(c)</text>
<path d="M474.96 75.3 V118" stroke="#231815" stroke-width="1.5" fill="none"/>
<path d="M452.35 79.7 H472.16" stroke="#231815" stroke-width="1.4" fill="none"/>
<path d="M449.85 79.7 L455.65 77.4 L453.91 79.7 L455.65 82 Z" fill="#231815"/>
<path d="M474.66 79.7 L468.86 82 L470.6 79.7 L468.86 77.4 Z" fill="#231815"/>
<text transform="translate(455.6 66.8) scale(1.001 1)" font-size="18" fill="#231815" font-style="italic" stroke="#231815" stroke-width="0.25">k</text>
<text transform="translate(464.4 70.7) scale(1.047 1)" font-size="11.88" fill="#231815" font-style="italic" stroke="#231815" stroke-width="0.25">F</text>
<text transform="translate(466.2 59.8) scale(0.909 1)" font-size="11.88" fill="#231815" stroke="#231815" stroke-width="0.3">1</text>
<text transform="translate(475.1 66.8) scale(0.867 1)" font-size="18" fill="#231815">(</text>
<text transform="translate(481.2 66.8) scale(1.160 1)" font-size="18" fill="#231815" font-style="italic">t</text>
<text transform="translate(489.2 66.8) scale(0.867 1)" font-size="18" fill="#231815">)</text>
<path d="M375.71 116 V179.8" stroke="#231815" stroke-width="1.5" fill="none"/>
<path d="M378.51 174.9 H447.85" stroke="#231815" stroke-width="1.4" fill="none"/>
<path d="M376.01 174.9 L381.81 172.6 L380.07 174.9 L381.81 177.2 Z" fill="#231815"/>
<path d="M450.35 174.9 L444.55 177.2 L446.29 174.9 L444.55 172.6 Z" fill="#231815"/>
<text transform="translate(394.7 193.4) scale(1.001 1)" font-size="18" fill="#231815" font-style="italic" stroke="#231815" stroke-width="0.25">k</text>
<text transform="translate(403.5 197.3) scale(1.047 1)" font-size="11.88" fill="#231815" font-style="italic" stroke="#231815" stroke-width="0.25">F</text>
<text transform="translate(405.3 186.4) scale(0.909 1)" font-size="11.88" fill="#231815" stroke="#231815" stroke-width="0.3">2</text>
<text transform="translate(414.2 193.4) scale(0.867 1)" font-size="18" fill="#231815">(</text>
<text transform="translate(420.3 193.4) scale(1.160 1)" font-size="18" fill="#231815" font-style="italic">t</text>
<text transform="translate(428.3 193.4) scale(0.867 1)" font-size="18" fill="#231815">)</text>
<path d="M768.19 79.7 V118" stroke="#231815" stroke-width="1.5" fill="none"/>
<path d="M755.8 81.9 H765.39" stroke="#231815" stroke-width="1.4" fill="none"/>
<path d="M753.3 81.9 L758.5 79.6 L756.94 81.9 L758.5 84.2 Z" fill="#231815"/>
<path d="M767.89 81.9 L762.69 84.2 L764.25 81.9 L762.69 79.6 Z" fill="#231815"/>
<text transform="translate(755.8 69) scale(1.001 1)" font-size="18" fill="#231815" font-style="italic" stroke="#231815" stroke-width="0.25">k</text>
<text transform="translate(764.6 72.9) scale(1.047 1)" font-size="11.88" fill="#231815" font-style="italic" stroke="#231815" stroke-width="0.25">F</text>
<text transform="translate(766.4 62) scale(0.909 1)" font-size="11.88" fill="#231815" stroke="#231815" stroke-width="0.3">1</text>
<text transform="translate(775.3 69) scale(0.867 1)" font-size="18" fill="#231815">(</text>
<text transform="translate(781.4 69) scale(1.160 1)" font-size="18" fill="#231815" font-style="italic">t</text>
<text transform="translate(789.4 69) scale(0.867 1)" font-size="18" fill="#231815">)</text>
<path d="M827.74 116 V159.4" stroke="#231815" stroke-width="1.5" fill="none"/>
<path d="M755.8 152.6 H824.94" stroke="#231815" stroke-width="1.4" fill="none"/>
<path d="M753.3 152.6 L759.1 150.3 L757.36 152.6 L759.1 154.9 Z" fill="#231815"/>
<path d="M827.44 152.6 L821.64 154.9 L823.38 152.6 L821.64 150.3 Z" fill="#231815"/>
<text transform="translate(760.3 173.8) scale(1.001 1)" font-size="18" fill="#231815" font-style="italic" stroke="#231815" stroke-width="0.25">k</text>
<text transform="translate(769.1 177.7) scale(1.047 1)" font-size="11.88" fill="#231815" font-style="italic" stroke="#231815" stroke-width="0.25">F</text>
<text transform="translate(770.9 166.8) scale(0.909 1)" font-size="11.88" fill="#231815" stroke="#231815" stroke-width="0.3">2</text>
<text transform="translate(779.8 173.8) scale(0.867 1)" font-size="18" fill="#231815">(</text>
<text transform="translate(785.9 173.8) scale(1.160 1)" font-size="18" fill="#231815" font-style="italic">t</text>
<text transform="translate(793.9 173.8) scale(0.867 1)" font-size="18" fill="#231815">)</text>
<path d="M498.3 89.6 H533.9" stroke="#4a4a4a" stroke-width="2" fill="none"/>
<text transform="translate(536.8 94.7) scale(0.870 1)" font-size="15.5" fill="#231815">0.0</text>
<path d="M498.3 108.4 H533.9" stroke="#f5424e" stroke-width="2" fill="none" stroke-dasharray="3.6 2.4"/>
<text transform="translate(536.8 113.5) scale(0.870 1)" font-size="15.5" fill="#231815">0.3</text>
<path d="M498.3 127.1 H533.9" stroke="#1b72d8" stroke-width="2" fill="none"/>
<text transform="translate(536.8 132.2) scale(0.870 1)" font-size="15.5" fill="#231815">0.5</text>
<path d="M498.3 145.9 H533.9" stroke="#d6a01a" stroke-width="2" fill="none" stroke-dasharray="3.6 2.4"/>
<text transform="translate(536.8 151) scale(0.870 1)" font-size="15.5" fill="#231815">0.7</text>
<path d="M498.3 164.7 H533.9" stroke="#2eaa63" stroke-width="2" fill="none"/>
<text transform="translate(536.8 169.8) scale(0.870 1)" font-size="15.5" fill="#231815">1.0</text>
<path d="M521.29 67.9 L518.63 78.54 C517.96 81.2 520.49 81.2 522.49 80.14 L523.55 78.94" stroke="#000" stroke-width="1.62" fill="none" stroke-linejoin="round"/>
<path d="M516.9 71.29 L524.61 71.29" stroke="#000" stroke-width="1.26" fill="none"/>
<path d="M651.1 89 H686.9" stroke="#2eaa63" stroke-width="2" fill="none"/>
<text transform="translate(690.3 94.1) scale(0.870 1)" font-size="15.5" fill="#231815">1.0</text>
<path d="M651.1 107.6 H686.9" stroke="#19c6d4" stroke-width="2" fill="none" stroke-dasharray="3.6 2.4"/>
<text transform="translate(690.3 112.7) scale(0.870 1)" font-size="15.5" fill="#231815">1.5</text>
<path d="M651.1 126.3 H686.9" stroke="#a66be0" stroke-width="2" fill="none"/>
<text transform="translate(690.3 131.4) scale(0.870 1)" font-size="15.5" fill="#231815">2.0</text>
<path d="M651.1 144.9 H686.9" stroke="#f26a1b" stroke-width="2" fill="none" stroke-dasharray="3.6 2.4"/>
<text transform="translate(690.3 150) scale(0.870 1)" font-size="15.5" fill="#231815">2.5</text>
<path d="M671.89 68.1 L669.23 78.74 C668.56 81.4 671.09 81.4 673.09 80.34 L674.15 79.14" stroke="#000" stroke-width="1.62" fill="none" stroke-linejoin="round"/>
<path d="M667.5 71.49 L675.21 71.49" stroke="#000" stroke-width="1.26" fill="none"/>
<g transform="translate(424.4 244.7)">
<text transform="translate(0 0) scale(1.094 1)" font-size="17.5" fill="#231815" font-style="italic" stroke="#231815" stroke-width="0.25">k</text>
<text transform="translate(8.6 4.8) scale(1.191 1)" font-size="14" fill="#231815" font-style="italic" stroke="#231815" stroke-width="0.25">y</text>
<text transform="translate(21.7 0) scale(0.841 1)" font-size="17.5" fill="#231815" stroke="#231815" stroke-width="0.2">(</text>
<text transform="translate(28 0) scale(0.728 1)" font-size="17.5" fill="#231815" stroke="#231815" stroke-width="0.3">Å</text>
<text transform="translate(38.6 -5.6) scale(1.093 1)" font-size="12" fill="#231815" stroke="#231815" stroke-width="0.3">−</text>
<text transform="translate(47.2 -5.2) scale(0.847 1)" font-size="11.8" fill="#231815" stroke="#231815" stroke-width="0.3">1</text>
<text transform="translate(54.2 0) scale(0.909 1)" font-size="17.5" fill="#231815" stroke="#231815" stroke-width="0.2">)</text>
</g>
<g transform="translate(720.6 244.7)">
<text transform="translate(0 0) scale(1.094 1)" font-size="17.5" fill="#231815" font-style="italic" stroke="#231815" stroke-width="0.25">k</text>
<text transform="translate(8.6 4.8) scale(1.191 1)" font-size="14" fill="#231815" font-style="italic" stroke="#231815" stroke-width="0.25">y</text>
<text transform="translate(21.7 0) scale(0.841 1)" font-size="17.5" fill="#231815" stroke="#231815" stroke-width="0.2">(</text>
<text transform="translate(28 0) scale(0.728 1)" font-size="17.5" fill="#231815" stroke="#231815" stroke-width="0.3">Å</text>
<text transform="translate(38.6 -5.6) scale(1.093 1)" font-size="12" fill="#231815" stroke="#231815" stroke-width="0.3">−</text>
<text transform="translate(47.2 -5.2) scale(0.847 1)" font-size="11.8" fill="#231815" stroke="#231815" stroke-width="0.3">1</text>
<text transform="translate(54.2 0) scale(0.909 1)" font-size="17.5" fill="#231815" stroke="#231815" stroke-width="0.2">)</text>
</g>
<g transform="translate(298.7 155.5) rotate(-90)">
<text transform="translate(0 0) scale(1.193 1)" font-size="17.5" fill="#231815" font-style="italic" stroke="#231815" stroke-width="0.25">k</text>
<text transform="translate(9.37 4.8) scale(1.298 1)" font-size="14" fill="#231815" font-style="italic" stroke="#231815" stroke-width="0.25">x</text>
<text transform="translate(23.65 0) scale(0.916 1)" font-size="17.5" fill="#231815" stroke="#231815" stroke-width="0.2">(</text>
<text transform="translate(30.52 0) scale(0.793 1)" font-size="17.5" fill="#231815" stroke="#231815" stroke-width="0.3">Å</text>
<text transform="translate(42.07 -5.6) scale(1.192 1)" font-size="12" fill="#231815" stroke="#231815" stroke-width="0.3">−</text>
<text transform="translate(51.45 -5.2) scale(0.924 1)" font-size="11.8" fill="#231815" stroke="#231815" stroke-width="0.3">1</text>
<text transform="translate(59.08 0) scale(0.991 1)" font-size="17.5" fill="#231815" stroke="#231815" stroke-width="0.2">)</text>
</g>
<g transform="translate(602.5 144.2) rotate(-90)">
<text transform="translate(0 0) scale(1.193 1)" font-size="17.5" fill="#231815" font-style="italic" stroke="#231815" stroke-width="0.25">k</text>
<text transform="translate(9.37 4.8) scale(1.298 1)" font-size="14" fill="#231815" font-style="italic" stroke="#231815" stroke-width="0.25">x</text>
<text transform="translate(23.65 0) scale(0.916 1)" font-size="17.5" fill="#231815" stroke="#231815" stroke-width="0.2">(</text>
<text transform="translate(30.52 0) scale(0.793 1)" font-size="17.5" fill="#231815" stroke="#231815" stroke-width="0.3">Å</text>
<text transform="translate(42.07 -5.6) scale(1.192 1)" font-size="12" fill="#231815" stroke="#231815" stroke-width="0.3">−</text>
<text transform="translate(51.45 -5.2) scale(0.924 1)" font-size="11.8" fill="#231815" stroke="#231815" stroke-width="0.3">1</text>
<text transform="translate(59.08 0) scale(0.991 1)" font-size="17.5" fill="#231815" stroke="#231815" stroke-width="0.2">)</text>
</g>
<rect x="57.4" y="267.3" width="73.03" height="175.75" fill="#dbdbdb"/>
<rect x="130.43" y="267.3" width="145.47" height="175.75" fill="#c7c7c7"/>
<clipPath id="clipd"><rect x="57.4" y="266.6" width="219.3" height="176.45"/></clipPath>
<g clip-path="url(#clipd)" fill="none" stroke-linejoin="round">
<path d="M129.73 268.8 V443.05" stroke="#17a04e" stroke-width="1.9" stroke-dasharray="3.1 3.8"/>
<path d="M57.4 428.99 L58.86 429.27 L60.31 429.53 L61.77 429.79 L63.23 430.03 L64.68 430.27 L66.14 430.5 L67.6 430.72 L69.05 430.93 L70.51 431.13 L71.97 431.33 L73.42 431.53 L74.88 431.71 L76.34 431.89 L77.79 432.07 L79.25 432.23 L80.71 432.4 L82.16 432.56 L83.62 432.71 L85.08 432.86 L86.53 433.01 L87.99 433.15 L89.45 433.29 L90.9 433.42 L92.36 433.55 L93.82 433.68 L95.27 433.8 L96.73 433.92 L98.19 434.04 L99.64 434.15 L101.1 434.26 L102.56 434.37 L104.01 434.48 L105.47 434.58 L106.93 434.68 L108.38 434.78 L109.84 434.88 L111.3 434.97 L112.75 435.06 L114.21 435.15 L115.67 435.24 L117.12 435.32 L118.58 435.41 L120.04 435.49 L121.49 435.57 L122.95 435.65 L124.41 435.73 L125.86 435.8 L127.32 435.88 L128.78 435.95 L130.23 436.02 L131.69 436.09 L133.15 436.16 L134.6 436.22 L136.06 436.29 L137.52 436.35 L138.97 436.42 L140.43 436.48 L141.89 436.54 L143.34 436.6 L144.8 436.66 L146.26 436.72 L147.71 436.77 L149.17 436.83 L150.63 436.88 L152.08 436.94 L153.54 436.99 L155 437.04 L156.45 437.09 L157.91 437.14 L159.37 437.19 L160.82 437.24 L162.28 437.29 L163.74 437.33 L165.19 437.38 L166.65 437.43 L168.11 437.47 L169.56 437.51 L171.02 437.56 L172.48 437.6 L173.93 437.64 L175.39 437.68 L176.85 437.72 L178.3 437.76 L179.76 437.8 L181.22 437.84 L182.67 437.88 L184.13 437.92 L185.59 437.96 L187.04 437.99 L188.5 438.03 L189.96 438.06 L191.41 438.1 L192.87 438.13 L194.33 438.17 L195.78 438.2 L197.24 438.23 L198.7 438.27 L200.15 438.3 L201.61 438.33 L203.07 438.36 L204.52 438.39 L205.98 438.43 L207.44 438.46 L208.89 438.49 L210.35 438.51 L211.81 438.54 L213.26 438.57 L214.72 438.6 L216.18 438.63 L217.63 438.66 L219.09 438.68 L220.55 438.71 L222 438.74 L223.46 438.76 L224.92 438.79 L226.37 438.82 L227.83 438.84 L229.29 438.87 L230.74 438.89 L232.2 438.91 L233.66 438.94 L235.11 438.96 L236.57 438.99 L238.03 439.01 L239.48 439.03 L240.94 439.06 L242.4 439.08 L243.85 439.1 L245.31 439.12 L246.77 439.14 L248.22 439.17 L249.68 439.19 L251.14 439.21 L252.59 439.23 L254.05 439.25 L255.51 439.27 L256.96 439.29 L258.42 439.31 L259.88 439.33 L261.33 439.35 L262.79 439.37 L264.25 439.39 L265.7 439.41 L267.16 439.43 L268.62 439.44 L270.07 439.46 L271.53 439.48 L272.99 439.5 L274.44 439.52 L275.9 439.54" stroke="#000" stroke-width="2.7"/>
<path d="M57.4 428.99 L57.69 428.93 L57.98 428.88 L58.27 428.82 L58.57 428.76 L58.86 428.7 L59.15 428.64 L59.44 428.58 L59.73 428.53 L60.02 428.46 L60.31 428.4 L60.6 428.34 L60.9 428.28 L61.19 428.22 L61.48 428.16 L61.77 428.09 L62.06 428.03 L62.35 427.96 L62.64 427.9 L62.94 427.83 L63.23 427.77 L63.52 427.7 L63.81 427.63 L64.1 427.57 L64.39 427.5 L64.68 427.43 L64.97 427.36 L65.27 427.29 L65.56 427.22 L65.85 427.15 L66.14 427.07 L66.43 427 L66.72 426.93 L67.01 426.85 L67.31 426.78 L67.6 426.7 L67.89 426.62 L68.18 426.55 L68.47 426.47 L68.76 426.39 L69.05 426.31 L69.34 426.23 L69.64 426.15 L69.93 426.07 L70.22 425.99 L70.51 425.9 L70.8 425.82 L71.09 425.73 L71.38 425.65 L71.68 425.56 L71.97 425.48 L72.26 425.39 L72.55 425.3 L72.84 425.21 L73.13 425.12 L73.42 425.02 L73.71 424.93 L74.01 424.84 L74.3 424.74 L74.59 424.65 L74.88 424.55 L75.17 424.45 L75.46 424.35 L75.75 424.25 L76.05 424.15 L76.34 424.05 L76.63 423.95 L76.92 423.84 L77.21 423.74 L77.5 423.63 L77.79 423.52 L78.08 423.41 L78.38 423.3 L78.67 423.19 L78.96 423.08 L79.25 422.96 L79.54 422.85 L79.83 422.73 L80.12 422.61 L80.42 422.49 L80.71 422.37 L81 422.25 L81.29 422.13 L81.58 422 L81.87 421.88 L82.16 421.75 L82.45 421.62 L82.75 421.49 L83.04 421.35 L83.33 421.22 L83.62 421.08 L83.91 420.94 L84.2 420.8 L84.49 420.66 L84.79 420.52 L85.08 420.37 L85.37 420.23 L85.66 420.08 L85.95 419.93 L86.24 419.77 L86.53 419.62 L86.82 419.46 L87.12 419.3 L87.41 419.14 L87.7 418.97 L87.99 418.81 L88.28 418.64 L88.57 418.47 L88.86 418.3 L89.16 418.12 L89.45 417.94 L89.74 417.76 L90.03 417.58 L90.32 417.39 L90.61 417.2 L90.9 417.01 L91.19 416.82 L91.49 416.62 L91.78 416.42 L92.07 416.22 L92.36 416.01 L92.65 415.8 L92.94 415.59 L93.23 415.37 L93.53 415.15 L93.82 414.93 L94.11 414.7 L94.4 414.47 L94.69 414.24 L94.98 414 L95.27 413.76 L95.56 413.51 L95.86 413.26 L96.15 413.01 L96.44 412.75 L96.73 412.48 L97.02 412.22 L97.31 411.94 L97.6 411.67 L97.9 411.38 L98.19 411.1 L98.48 410.8 L98.77 410.5 L99.06 410.2 L99.35 409.89 L99.64 409.57 L99.93 409.25 L100.23 408.92 L100.52 408.59 L100.81 408.25 L101.1 407.9 L101.39 407.54 L101.68 407.18 L101.97 406.81 L102.27 406.44 L102.56 406.05 L102.85 405.66 L103.14 405.25 L103.43 404.84 L103.72 404.42 L104.01 403.99 L104.3 403.56 L104.6 403.11 L104.89 402.65 L105.18 402.18 L105.47 401.7 L105.76 401.2 L106.05 400.7 L106.34 400.18 L106.64 399.65 L106.93 399.11 L107.22 398.56 L107.51 397.99 L107.8 397.4 L108.09 396.8 L108.38 396.18 L108.67 395.55 L108.97 394.9 L109.26 394.23 L109.55 393.54 L109.84 392.84 L110.13 392.11 L110.42 391.36 L110.71 390.59 L111.01 389.79 L111.3 388.97 L111.59 388.13 L111.88 387.26 L112.17 386.36 L112.46 385.43 L112.75 384.47 L113.04 383.47 L113.34 382.45 L113.63 381.38 L113.92 380.28 L114.21 379.14 L114.5 377.96 L114.79 376.73 L115.08 375.45 L115.38 374.13 L115.67 372.75 L115.96 371.32 L116.25 369.82 L116.54 368.26 L116.83 366.64 L117.12 364.94 L117.41 363.16 L117.71 361.31 L118 359.36 L118.29 357.32 L118.58 355.18 L118.87 352.92 L119.16 350.55 L119.45 348.05 L119.75 345.41 L120.04 342.62 L120.33 339.67 L120.62 336.53 L120.91 333.21 L121.2 329.66 L121.49 325.88 L121.78 321.84 L122.08 317.51 L122.37 312.86 L122.66 307.86 L122.95 302.45 L123.24 296.59 L123.53 290.22 L123.82 283.28 L124.12 275.67 L124.41 267.3 L124.7 258.05 L124.99 247.77 L125.28 236.29 L125.57 223.36 L125.86 208.72" stroke="#ff0000" stroke-width="2.3"/>
<path d="M134.6 208.72 L134.89 223.36 L135.19 236.29 L135.48 247.77 L135.77 258.05 L136.06 267.3 L136.35 275.67 L136.64 283.28 L136.93 290.22 L137.23 296.59 L137.52 302.45 L137.81 307.86 L138.1 312.86 L138.39 317.51 L138.68 321.84 L138.97 325.88 L139.26 329.66 L139.56 333.21 L139.85 336.53 L140.14 339.67 L140.43 342.62 L140.72 345.41 L141.01 348.05 L141.3 350.55 L141.6 352.92 L141.89 355.18 L142.18 357.32 L142.47 359.36 L142.76 361.31 L143.05 363.16 L143.34 364.94 L143.63 366.64 L143.93 368.26 L144.22 369.82 L144.51 371.32 L144.8 372.75 L145.09 374.13 L145.38 375.45 L145.67 376.73 L145.97 377.96 L146.26 379.14 L146.55 380.28 L146.84 381.38 L147.13 382.45 L147.42 383.47 L147.71 384.47 L148 385.43 L148.3 386.36 L148.59 387.26 L148.88 388.13 L149.17 388.97 L149.46 389.79 L149.75 390.59 L150.04 391.36 L150.34 392.11 L150.63 392.84 L150.92 393.54 L151.21 394.23 L151.5 394.9 L151.79 395.55 L152.08 396.18 L152.37 396.8 L152.67 397.4 L152.96 397.99 L153.25 398.56 L153.54 399.11 L153.83 399.65 L154.12 400.18 L154.41 400.7 L154.71 401.2 L155 401.7 L155.29 402.18 L155.58 402.65 L155.87 403.11 L156.16 403.56 L156.45 403.99 L156.74 404.42 L157.04 404.84 L157.33 405.25 L157.62 405.66 L157.91 406.05 L158.2 406.44 L158.49 406.81 L158.78 407.18 L159.08 407.54 L159.37 407.9 L159.66 408.25 L159.95 408.59 L160.24 408.92 L160.53 409.25 L160.82 409.57 L161.11 409.89 L161.41 410.2 L161.7 410.5 L161.99 410.8 L162.28 411.1 L162.57 411.38 L162.86 411.67 L163.15 411.94 L163.45 412.22 L163.74 412.48 L164.03 412.75 L164.32 413.01 L164.61 413.26 L164.9 413.51 L165.19 413.76 L165.48 414 L165.78 414.24 L166.07 414.47 L166.36 414.7 L166.65 414.93 L166.94 415.15 L167.23 415.37 L167.52 415.59 L167.82 415.8 L168.11 416.01 L168.4 416.22 L168.69 416.42 L168.98 416.62 L169.27 416.82 L169.56 417.01 L169.85 417.2 L170.15 417.39 L170.44 417.58 L170.73 417.76 L171.02 417.94 L171.31 418.12 L171.6 418.3 L171.89 418.47 L172.19 418.64 L172.48 418.81 L172.77 418.97 L173.06 419.14 L173.35 419.3 L173.64 419.46 L173.93 419.62 L174.22 419.77 L174.52 419.93 L174.81 420.08 L175.1 420.23 L175.39 420.37 L175.68 420.52 L175.97 420.66 L176.26 420.8 L176.56 420.94 L176.85 421.08 L177.14 421.22 L177.43 421.35 L177.72 421.49 L178.01 421.62 L178.3 421.75 L178.59 421.88 L178.89 422 L179.18 422.13 L179.47 422.25 L179.76 422.37 L180.05 422.49 L180.34 422.61 L180.63 422.73 L180.93 422.85 L181.22 422.96 L181.51 423.08 L181.8 423.19 L182.09 423.3 L182.38 423.41 L182.67 423.52 L182.96 423.63 L183.26 423.74 L183.55 423.84 L183.84 423.95 L184.13 424.05 L184.42 424.15 L184.71 424.25 L185 424.35 L185.3 424.45 L185.59 424.55 L185.88 424.65 L186.17 424.74 L186.46 424.84 L186.75 424.93 L187.04 425.02 L187.33 425.12 L187.63 425.21 L187.92 425.3 L188.21 425.39 L188.5 425.48 L188.79 425.56 L189.08 425.65 L189.37 425.73 L189.67 425.82 L189.96 425.9 L190.25 425.99 L190.54 426.07 L190.83 426.15 L191.12 426.23 L191.41 426.31 L191.7 426.39 L192 426.47 L192.29 426.55 L192.58 426.62 L192.87 426.7 L193.16 426.78 L193.45 426.85 L193.74 426.93 L194.04 427 L194.33 427.07 L194.62 427.15 L194.91 427.22 L195.2 427.29 L195.49 427.36 L195.78 427.43 L196.07 427.5 L196.37 427.57 L196.66 427.63 L196.95 427.7 L197.24 427.77 L197.53 427.83 L197.82 427.9 L198.11 427.96 L198.41 428.03 L198.7 428.09 L198.99 428.16 L199.28 428.22 L199.57 428.28 L199.86 428.34 L200.15 428.4 L200.44 428.46 L200.74 428.53 L201.03 428.58 L201.32 428.64 L201.61 428.7 L201.9 428.76 L202.19 428.82 L202.48 428.88 L202.78 428.93 L203.07 428.99 L203.36 429.05 L203.65 429.1 L203.94 429.16 L204.23 429.21 L204.52 429.27 L204.81 429.32 L205.11 429.37 L205.4 429.43 L205.69 429.48 L205.98 429.53 L206.27 429.58 L206.56 429.63 L206.85 429.68 L207.15 429.74 L207.44 429.79 L207.73 429.84 L208.02 429.89 L208.31 429.93 L208.6 429.98 L208.89 430.03 L209.18 430.08 L209.48 430.13 L209.77 430.17 L210.06 430.22 L210.35 430.27 L210.64 430.31 L210.93 430.36 L211.22 430.41 L211.52 430.45 L211.81 430.5 L212.1 430.54 L212.39 430.59 L212.68 430.63 L212.97 430.67 L213.26 430.72 L213.55 430.76 L213.85 430.8 L214.14 430.85 L214.43 430.89 L214.72 430.93 L215.01 430.97 L215.3 431.01 L215.59 431.05 L215.89 431.09 L216.18 431.13 L216.47 431.18 L216.76 431.21 L217.05 431.25 L217.34 431.29 L217.63 431.33 L217.92 431.37 L218.22 431.41 L218.51 431.45 L218.8 431.49 L219.09 431.53 L219.38 431.56 L219.67 431.6 L219.96 431.64 L220.26 431.67 L220.55 431.71 L220.84 431.75 L221.13 431.78 L221.42 431.82 L221.71 431.86 L222 431.89 L222.29 431.93 L222.59 431.96 L222.88 432 L223.17 432.03 L223.46 432.07 L223.75 432.1 L224.04 432.13 L224.33 432.17 L224.63 432.2 L224.92 432.23 L225.21 432.27 L225.5 432.3 L225.79 432.33 L226.08 432.37 L226.37 432.4 L226.66 432.43 L226.96 432.46 L227.25 432.49 L227.54 432.53 L227.83 432.56 L228.12 432.59 L228.41 432.62 L228.7 432.65 L229 432.68 L229.29 432.71 L229.58 432.74 L229.87 432.77 L230.16 432.8 L230.45 432.83 L230.74 432.86 L231.03 432.89 L231.33 432.92 L231.62 432.95 L231.91 432.98 L232.2 433.01 L232.49 433.04 L232.78 433.06 L233.07 433.09 L233.37 433.12 L233.66 433.15 L233.95 433.18 L234.24 433.2 L234.53 433.23 L234.82 433.26 L235.11 433.29 L235.4 433.31 L235.7 433.34 L235.99 433.37 L236.28 433.39 L236.57 433.42 L236.86 433.45 L237.15 433.47 L237.44 433.5 L237.74 433.52 L238.03 433.55 L238.32 433.58 L238.61 433.6 L238.9 433.63 L239.19 433.65 L239.48 433.68 L239.77 433.7 L240.07 433.73 L240.36 433.75 L240.65 433.78 L240.94 433.8 L241.23 433.82 L241.52 433.85 L241.81 433.87 L242.11 433.9 L242.4 433.92 L242.69 433.94 L242.98 433.97 L243.27 433.99 L243.56 434.01 L243.85 434.04 L244.14 434.06 L244.44 434.08 L244.73 434.11 L245.02 434.13 L245.31 434.15 L245.6 434.17 L245.89 434.2 L246.18 434.22 L246.48 434.24 L246.77 434.26 L247.06 434.28 L247.35 434.31 L247.64 434.33 L247.93 434.35 L248.22 434.37 L248.51 434.39 L248.81 434.41 L249.1 434.43 L249.39 434.46 L249.68 434.48 L249.97 434.5 L250.26 434.52 L250.55 434.54 L250.85 434.56 L251.14 434.58 L251.43 434.6 L251.72 434.62 L252.01 434.64 L252.3 434.66 L252.59 434.68 L252.88 434.7 L253.18 434.72 L253.47 434.74 L253.76 434.76 L254.05 434.78 L254.34 434.8 L254.63 434.82 L254.92 434.84 L255.22 434.86 L255.51 434.88 L255.8 434.89 L256.09 434.91 L256.38 434.93 L256.67 434.95 L256.96 434.97 L257.25 434.99 L257.55 435.01 L257.84 435.02 L258.13 435.04 L258.42 435.06 L258.71 435.08 L259 435.1 L259.29 435.12 L259.59 435.13 L259.88 435.15 L260.17 435.17 L260.46 435.19 L260.75 435.2 L261.04 435.22 L261.33 435.24 L261.62 435.26 L261.92 435.27 L262.21 435.29 L262.5 435.31 L262.79 435.32 L263.08 435.34 L263.37 435.36 L263.66 435.38 L263.96 435.39 L264.25 435.41 L264.54 435.43 L264.83 435.44 L265.12 435.46 L265.41 435.47 L265.7 435.49 L265.99 435.51 L266.29 435.52 L266.58 435.54 L266.87 435.56 L267.16 435.57 L267.45 435.59 L267.74 435.6 L268.03 435.62 L268.33 435.63 L268.62 435.65 L268.91 435.67 L269.2 435.68 L269.49 435.7 L269.78 435.71 L270.07 435.73 L270.36 435.74 L270.66 435.76 L270.95 435.77 L271.24 435.79 L271.53 435.8 L271.82 435.82 L272.11 435.83 L272.4 435.85 L272.7 435.86 L272.99 435.88 L273.28 435.89 L273.57 435.91 L273.86 435.92 L274.15 435.93 L274.44 435.95 L274.73 435.96 L275.03 435.98 L275.32 435.99 L275.61 436.01 L275.9 436.02" stroke="#0000ff" stroke-width="2.3"/>
</g>
<path d="M57.4 443.05 v-3.5M57.4 267.3 v3.5M130.23 443.05 v-3.5M130.23 267.3 v3.5M203.07 443.05 v-3.5M203.07 267.3 v3.5M275.9 443.05 v-3.5M275.9 267.3 v3.5M93.82 443.05 v-1.9M93.82 267.3 v1.9M166.65 443.05 v-1.9M166.65 267.3 v1.9M239.48 443.05 v-1.9M239.48 267.3 v1.9M57.4 443.05 h3.5M275.9 443.05 h-3.5M57.4 407.9 h3.5M275.9 407.9 h-3.5M57.4 372.75 h3.5M275.9 372.75 h-3.5M57.4 337.6 h3.5M275.9 337.6 h-3.5M57.4 302.45 h3.5M275.9 302.45 h-3.5M57.4 267.3 h3.5M275.9 267.3 h-3.5M57.4 425.48 h1.9M275.9 425.48 h-1.9M57.4 390.33 h1.9M275.9 390.33 h-1.9M57.4 355.18 h1.9M275.9 355.18 h-1.9M57.4 320.03 h1.9M275.9 320.03 h-1.9M57.4 284.88 h1.9M275.9 284.88 h-1.9" stroke="#231815" stroke-width="1.2" fill="none"/>
<rect x="57.4" y="267.3" width="218.5" height="175.75" fill="none" stroke="#231815" stroke-width="1.35"/>
<text transform="translate(57.4 458.2) scale(0.870 1)" font-size="15.5" fill="#231815" text-anchor="middle">0</text>
<text transform="translate(130.23 458.2) scale(0.870 1)" font-size="15.5" fill="#231815" text-anchor="middle">1</text>
<text transform="translate(203.07 458.2) scale(0.870 1)" font-size="15.5" fill="#231815" text-anchor="middle">2</text>
<text transform="translate(275.9 458.2) scale(0.870 1)" font-size="15.5" fill="#231815" text-anchor="middle">3</text>
<text transform="translate(53.6 448.05) scale(0.870 1)" font-size="15.5" fill="#231815" text-anchor="end">0</text>
<text transform="translate(53.6 412.9) scale(0.870 1)" font-size="15.5" fill="#231815" text-anchor="end">1</text>
<text transform="translate(53.6 377.75) scale(0.870 1)" font-size="15.5" fill="#231815" text-anchor="end">2</text>
<text transform="translate(53.6 342.6) scale(0.870 1)" font-size="15.5" fill="#231815" text-anchor="end">3</text>
<text transform="translate(53.6 307.45) scale(0.870 1)" font-size="15.5" fill="#231815" text-anchor="end">4</text>
<text transform="translate(53.6 272.3) scale(0.870 1)" font-size="15.5" fill="#231815" text-anchor="end">5</text>
<text transform="translate(60.7 286.2) scale(0.986 1)" font-size="22" fill="#231815">(d)</text>
<text x="67.3" y="330.6" font-size="19.2" fill="#231815">type-I</text>
<text x="181.7" y="347.7" font-size="19.2" fill="#231815">type-II</text>
<text transform="translate(81.4 385.3) scale(0.985 1)" font-size="21" fill="#000" font-style="italic" stroke="#000" stroke-width="0.3">ω</text>
<text transform="translate(97.5 390.24) scale(0.974 1)" font-size="15.96" fill="#000" stroke="#000" stroke-width="0.35">2</text>
<text transform="translate(156.2 385.3) scale(0.985 1)" font-size="21" fill="#000" font-style="italic" stroke="#000" stroke-width="0.3">ω</text>
<text transform="translate(172.3 390.24) scale(0.974 1)" font-size="15.96" fill="#000" stroke="#000" stroke-width="0.35">2</text>
<text transform="translate(134 427.3) scale(0.963 1)" font-size="20" fill="#000" font-style="italic" stroke="#000" stroke-width="0.3">ω</text>
<text transform="translate(149.1 432) scale(0.974 1)" font-size="15.2" fill="#000" stroke="#000" stroke-width="0.35">1</text>
<path d="M169.18 457.1 L166.16 469.18 C165.41 472.2 168.28 472.2 170.54 470.99 L171.75 469.63" stroke="#000" stroke-width="1.84" fill="none" stroke-linejoin="round"/>
<path d="M164.2 460.95 L172.96 460.95" stroke="#000" stroke-width="1.43" fill="none"/>
<g transform="translate(30.5 389.8) rotate(-90)">
<text transform="translate(0 0) scale(0.771 1)" font-size="27" fill="#000" font-style="italic" stroke="#000" stroke-width="0.35">ω</text>
<text transform="translate(16.3 5.1) scale(1.326 1)" font-size="19" fill="#000" font-style="italic" stroke="#000" stroke-width="0.3">i</text>
<text transform="translate(41.8 0) scale(0.801 1)" font-size="27" fill="#000">(</text>
<path d="M56.38 -16.3 L53.12 -3.26 C52.3 0 55.4 0 57.85 -1.3 L59.15 -2.77" stroke="#000" stroke-width="1.99" fill="none" stroke-linejoin="round"/>
<path d="M51 -12.14 L60.45 -12.14" stroke="#000" stroke-width="1.55" fill="none"/>
<text transform="translate(65.3 0) scale(0.845 1)" font-size="27" fill="#000">)</text>
</g>
<rect x="340.8" y="267.3" width="73.07" height="175.75" fill="#dbdbdb"/>
<rect x="413.87" y="267.3" width="145.53" height="175.75" fill="#c7c7c7"/>
<clipPath id="clipe"><rect x="340.8" y="266.6" width="219.4" height="176.45"/></clipPath>
<g clip-path="url(#clipe)" fill="none" stroke-linejoin="round">
<path d="M413.17 268.8 V443.05" stroke="#17a04e" stroke-width="1.9" stroke-dasharray="3.1 3.8"/>
<path d="M340.8 443.05 L341.09 442.94 L341.38 442.83 L341.67 442.71 L341.97 442.6 L342.26 442.49 L342.55 442.37 L342.84 442.26 L343.13 442.15 L343.42 442.04 L343.71 441.92 L344.01 441.81 L344.3 441.7 L344.59 441.58 L344.88 441.47 L345.17 441.36 L345.46 441.24 L345.75 441.13 L346.05 441.01 L346.34 440.9 L346.63 440.79 L346.92 440.67 L347.21 440.56 L347.5 440.44 L347.8 440.33 L348.09 440.21 L348.38 440.09 L348.67 439.98 L348.96 439.86 L349.25 439.74 L349.54 439.63 L349.84 439.51 L350.13 439.39 L350.42 439.27 L350.71 439.15 L351 439.03 L351.29 438.91 L351.58 438.8 L351.88 438.67 L352.17 438.55 L352.46 438.43 L352.75 438.31 L353.04 438.19 L353.33 438.07 L353.62 437.94 L353.92 437.82 L354.21 437.69 L354.5 437.57 L354.79 437.44 L355.08 437.32 L355.37 437.19 L355.66 437.06 L355.96 436.94 L356.25 436.81 L356.54 436.68 L356.83 436.55 L357.12 436.42 L357.41 436.29 L357.71 436.16 L358 436.02 L358.29 435.89 L358.58 435.75 L358.87 435.62 L359.16 435.48 L359.45 435.35 L359.75 435.21 L360.04 435.07 L360.33 434.93 L360.62 434.79 L360.91 434.65 L361.2 434.51 L361.49 434.36 L361.79 434.22 L362.08 434.07 L362.37 433.93 L362.66 433.78 L362.95 433.63 L363.24 433.48 L363.53 433.33 L363.83 433.18 L364.12 433.03 L364.41 432.87 L364.7 432.71 L364.99 432.56 L365.28 432.4 L365.57 432.24 L365.87 432.08 L366.16 431.92 L366.45 431.75 L366.74 431.59 L367.03 431.42 L367.32 431.25 L367.61 431.08 L367.91 430.91 L368.2 430.74 L368.49 430.56 L368.78 430.38 L369.07 430.21 L369.36 430.03 L369.66 429.84 L369.95 429.66 L370.24 429.47 L370.53 429.29 L370.82 429.1 L371.11 428.9 L371.4 428.71 L371.7 428.51 L371.99 428.32 L372.28 428.11 L372.57 427.91 L372.86 427.71 L373.15 427.5 L373.44 427.29 L373.74 427.08 L374.03 426.86 L374.32 426.64 L374.61 426.42 L374.9 426.2 L375.19 425.97 L375.48 425.74 L375.78 425.51 L376.07 425.28 L376.36 425.04 L376.65 424.8 L376.94 424.55 L377.23 424.3 L377.52 424.05 L377.82 423.8 L378.11 423.54 L378.4 423.27 L378.69 423.01 L378.98 422.74 L379.27 422.46 L379.57 422.18 L379.86 421.9 L380.15 421.61 L380.44 421.32 L380.73 421.03 L381.02 420.73 L381.31 420.42 L381.61 420.11 L381.9 419.79 L382.19 419.47 L382.48 419.14 L382.77 418.81 L383.06 418.47 L383.35 418.13 L383.65 417.78 L383.94 417.42 L384.23 417.06 L384.52 416.69 L384.81 416.31 L385.1 415.93 L385.39 415.53 L385.69 415.14 L385.98 414.73 L386.27 414.31 L386.56 413.89 L386.85 413.46 L387.14 413.02 L387.43 412.57 L387.73 412.11 L388.02 411.64 L388.31 411.16 L388.6 410.67 L388.89 410.17 L389.18 409.65 L389.47 409.13 L389.77 408.59 L390.06 408.04 L390.35 407.48 L390.64 406.91 L390.93 406.32 L391.22 405.71 L391.52 405.09 L391.81 404.45 L392.1 403.8 L392.39 403.13 L392.68 402.44 L392.97 401.74 L393.26 401.01 L393.56 400.26 L393.85 399.5 L394.14 398.71 L394.43 397.89 L394.72 397.05 L395.01 396.19 L395.3 395.3 L395.6 394.38 L395.89 393.43 L396.18 392.46 L396.47 391.44 L396.76 390.4 L397.05 389.32 L397.34 388.2 L397.64 387.04 L397.93 385.84 L398.22 384.59 L398.51 383.3 L398.8 381.96 L399.09 380.56 L399.38 379.11 L399.68 377.6 L399.97 376.02 L400.26 374.38 L400.55 372.66 L400.84 370.87 L401.13 369 L401.43 367.03 L401.72 364.98 L402.01 362.82 L402.3 360.55 L402.59 358.16 L402.88 355.64 L403.17 352.99 L403.47 350.18 L403.76 347.21 L404.05 344.06 L404.34 340.72 L404.63 337.16 L404.92 333.36 L405.21 329.31 L405.51 324.96 L405.8 320.3 L406.09 315.27 L406.38 309.85 L406.67 303.98 L406.96 297.59 L407.25 290.63 L407.55 283.01 L407.84 274.62 L408.13 265.36 L408.42 255.06 L408.71 243.56 L409 230.62 L409.29 215.96" stroke="#ff0000" stroke-width="2.3"/>
<path d="M418.04 201.89 L418.33 216.55 L418.62 229.49 L418.91 240.99 L419.2 251.28 L419.5 260.54 L419.79 268.92 L420.08 276.54 L420.37 283.5 L420.66 289.88 L420.95 295.75 L421.24 301.18 L421.54 306.19 L421.83 310.86 L422.12 315.2 L422.41 319.25 L422.7 323.04 L422.99 326.6 L423.29 329.94 L423.58 333.09 L423.87 336.05 L424.16 338.85 L424.45 341.5 L424.74 344.02 L425.03 346.4 L425.33 348.67 L425.62 350.82 L425.91 352.87 L426.2 354.83 L426.49 356.7 L426.78 358.49 L427.07 360.2 L427.37 361.84 L427.66 363.41 L427.95 364.91 L428.24 366.36 L428.53 367.75 L428.82 369.09 L429.11 370.37 L429.41 371.61 L429.7 372.81 L429.99 373.96 L430.28 375.07 L430.57 376.15 L430.86 377.19 L431.15 378.19 L431.45 379.16 L431.74 380.1 L432.03 381.01 L432.32 381.9 L432.61 382.75 L432.9 383.58 L433.19 384.39 L433.49 385.17 L433.78 385.93 L434.07 386.67 L434.36 387.39 L434.65 388.09 L434.94 388.76 L435.24 389.43 L435.53 390.07 L435.82 390.7 L436.11 391.31 L436.4 391.9 L436.69 392.49 L436.98 393.05 L437.28 393.61 L437.57 394.14 L437.86 394.67 L438.15 395.19 L438.44 395.69 L438.73 396.18 L439.02 396.66 L439.32 397.13 L439.61 397.59 L439.9 398.04 L440.19 398.48 L440.48 398.91 L440.77 399.33 L441.06 399.74 L441.36 400.14 L441.65 400.54 L441.94 400.93 L442.23 401.3 L442.52 401.68 L442.81 402.04 L443.1 402.4 L443.4 402.75 L443.69 403.09 L443.98 403.43 L444.27 403.76 L444.56 404.09 L444.85 404.41 L445.15 404.72 L445.44 405.03 L445.73 405.33 L446.02 405.63 L446.31 405.92 L446.6 406.21 L446.89 406.49 L447.19 406.77 L447.48 407.04 L447.77 407.31 L448.06 407.57 L448.35 407.83 L448.64 408.09 L448.93 408.34 L449.23 408.59 L449.52 408.83 L449.81 409.07 L450.1 409.31 L450.39 409.54 L450.68 409.77 L450.97 409.99 L451.27 410.21 L451.56 410.43 L451.85 410.65 L452.14 410.86 L452.43 411.07 L452.72 411.27 L453.01 411.48 L453.31 411.68 L453.6 411.88 L453.89 412.07 L454.18 412.26 L454.47 412.45 L454.76 412.64 L455.05 412.82 L455.35 413 L455.64 413.18 L455.93 413.36 L456.22 413.53 L456.51 413.71 L456.8 413.88 L457.1 414.04 L457.39 414.21 L457.68 414.37 L457.97 414.53 L458.26 414.69 L458.55 414.85 L458.84 415.01 L459.14 415.16 L459.43 415.31 L459.72 415.46 L460.01 415.61 L460.3 415.76 L460.59 415.9 L460.88 416.04 L461.18 416.18 L461.47 416.32 L461.76 416.46 L462.05 416.6 L462.34 416.73 L462.63 416.87 L462.92 417 L463.22 417.13 L463.51 417.26 L463.8 417.38 L464.09 417.51 L464.38 417.63 L464.67 417.76 L464.96 417.88 L465.26 418 L465.55 418.12 L465.84 418.24 L466.13 418.35 L466.42 418.47 L466.71 418.58 L467.01 418.7 L467.3 418.81 L467.59 418.92 L467.88 419.03 L468.17 419.14 L468.46 419.24 L468.75 419.35 L469.05 419.46 L469.34 419.56 L469.63 419.66 L469.92 419.77 L470.21 419.87 L470.5 419.97 L470.79 420.07 L471.09 420.16 L471.38 420.26 L471.67 420.36 L471.96 420.45 L472.25 420.55 L472.54 420.64 L472.83 420.73 L473.13 420.83 L473.42 420.92 L473.71 421.01 L474 421.1 L474.29 421.19 L474.58 421.27 L474.87 421.36 L475.17 421.45 L475.46 421.53 L475.75 421.62 L476.04 421.7 L476.33 421.79 L476.62 421.87 L476.91 421.95 L477.21 422.03 L477.5 422.11 L477.79 422.19 L478.08 422.27 L478.37 422.35 L478.66 422.43 L478.96 422.5 L479.25 422.58 L479.54 422.66 L479.83 422.73 L480.12 422.81 L480.41 422.88 L480.7 422.95 L481 423.03 L481.29 423.1 L481.58 423.17 L481.87 423.24 L482.16 423.31 L482.45 423.38 L482.74 423.45 L483.04 423.52 L483.33 423.59 L483.62 423.65 L483.91 423.72 L484.2 423.79 L484.49 423.85 L484.78 423.92 L485.08 423.98 L485.37 424.05 L485.66 424.11 L485.95 424.18 L486.24 424.24 L486.53 424.3 L486.82 424.37 L487.12 424.43 L487.41 424.49 L487.7 424.55 L487.99 424.61 L488.28 424.67 L488.57 424.73 L488.87 424.79 L489.16 424.85 L489.45 424.91 L489.74 424.96 L490.03 425.02 L490.32 425.08 L490.61 425.13 L490.91 425.19 L491.2 425.25 L491.49 425.3 L491.78 425.36 L492.07 425.41 L492.36 425.47 L492.65 425.52 L492.95 425.57 L493.24 425.63 L493.53 425.68 L493.82 425.73 L494.11 425.78 L494.4 425.84 L494.69 425.89 L494.99 425.94 L495.28 425.99 L495.57 426.04 L495.86 426.09 L496.15 426.14 L496.44 426.19 L496.73 426.24 L497.03 426.29 L497.32 426.34 L497.61 426.38 L497.9 426.43 L498.19 426.48 L498.48 426.53 L498.77 426.57 L499.07 426.62 L499.36 426.67 L499.65 426.71 L499.94 426.76 L500.23 426.8 L500.52 426.85 L500.82 426.89 L501.11 426.94 L501.4 426.98 L501.69 427.03 L501.98 427.07 L502.27 427.12 L502.56 427.16 L502.86 427.2 L503.15 427.24 L503.44 427.29 L503.73 427.33 L504.02 427.37 L504.31 427.41 L504.6 427.46 L504.9 427.5 L505.19 427.54 L505.48 427.58 L505.77 427.62 L506.06 427.66 L506.35 427.7 L506.64 427.74 L506.94 427.78 L507.23 427.82 L507.52 427.86 L507.81 427.9 L508.1 427.94 L508.39 427.97 L508.68 428.01 L508.98 428.05 L509.27 428.09 L509.56 428.13 L509.85 428.16 L510.14 428.2 L510.43 428.24 L510.73 428.27 L511.02 428.31 L511.31 428.35 L511.6 428.38 L511.89 428.42 L512.18 428.46 L512.47 428.49 L512.77 428.53 L513.06 428.56 L513.35 428.6 L513.64 428.63 L513.93 428.67 L514.22 428.7 L514.51 428.74 L514.81 428.77 L515.1 428.8 L515.39 428.84 L515.68 428.87 L515.97 428.91 L516.26 428.94 L516.55 428.97 L516.85 429 L517.14 429.04 L517.43 429.07 L517.72 429.1 L518.01 429.13 L518.3 429.17 L518.59 429.2 L518.89 429.23 L519.18 429.26 L519.47 429.29 L519.76 429.33 L520.05 429.36 L520.34 429.39 L520.63 429.42 L520.93 429.45 L521.22 429.48 L521.51 429.51 L521.8 429.54 L522.09 429.57 L522.38 429.6 L522.68 429.63 L522.97 429.66 L523.26 429.69 L523.55 429.72 L523.84 429.75 L524.13 429.78 L524.42 429.81 L524.72 429.83 L525.01 429.86 L525.3 429.89 L525.59 429.92 L525.88 429.95 L526.17 429.98 L526.46 430 L526.76 430.03 L527.05 430.06 L527.34 430.09 L527.63 430.12 L527.92 430.14 L528.21 430.17 L528.5 430.2 L528.8 430.22 L529.09 430.25 L529.38 430.28 L529.67 430.3 L529.96 430.33 L530.25 430.36 L530.54 430.38 L530.84 430.41 L531.13 430.44 L531.42 430.46 L531.71 430.49 L532 430.51 L532.29 430.54 L532.59 430.56 L532.88 430.59 L533.17 430.61 L533.46 430.64 L533.75 430.66 L534.04 430.69 L534.33 430.71 L534.63 430.74 L534.92 430.76 L535.21 430.79 L535.5 430.81 L535.79 430.84 L536.08 430.86 L536.37 430.88 L536.67 430.91 L536.96 430.93 L537.25 430.96 L537.54 430.98 L537.83 431 L538.12 431.03 L538.41 431.05 L538.71 431.07 L539 431.1 L539.29 431.12 L539.58 431.14 L539.87 431.16 L540.16 431.19 L540.45 431.21 L540.75 431.23 L541.04 431.26 L541.33 431.28 L541.62 431.3 L541.91 431.32 L542.2 431.34 L542.49 431.37 L542.79 431.39 L543.08 431.41 L543.37 431.43 L543.66 431.45 L543.95 431.47 L544.24 431.5 L544.54 431.52 L544.83 431.54 L545.12 431.56 L545.41 431.58 L545.7 431.6 L545.99 431.62 L546.28 431.64 L546.58 431.66 L546.87 431.69 L547.16 431.71 L547.45 431.73 L547.74 431.75 L548.03 431.77 L548.32 431.79 L548.62 431.81 L548.91 431.83 L549.2 431.85 L549.49 431.87 L549.78 431.89 L550.07 431.91 L550.36 431.93 L550.66 431.95 L550.95 431.97 L551.24 431.99 L551.53 432.01 L551.82 432.03 L552.11 432.04 L552.4 432.06 L552.7 432.08 L552.99 432.1 L553.28 432.12 L553.57 432.14 L553.86 432.16 L554.15 432.18 L554.45 432.2 L554.74 432.22 L555.03 432.23 L555.32 432.25 L555.61 432.27 L555.9 432.29 L556.19 432.31 L556.49 432.33 L556.78 432.34 L557.07 432.36 L557.36 432.38 L557.65 432.4 L557.94 432.42 L558.23 432.43 L558.53 432.45 L558.82 432.47 L559.11 432.49 L559.4 432.5" stroke="#0000ff" stroke-width="2.3"/>
</g>
<path d="M340.8 443.05 v-3.5M340.8 267.3 v3.5M413.67 443.05 v-3.5M413.67 267.3 v3.5M486.53 443.05 v-3.5M486.53 267.3 v3.5M559.4 443.05 v-3.5M559.4 267.3 v3.5M377.23 443.05 v-1.9M377.23 267.3 v1.9M450.1 443.05 v-1.9M450.1 267.3 v1.9M522.97 443.05 v-1.9M522.97 267.3 v1.9M340.8 443.05 h3.5M559.4 443.05 h-3.5M340.8 407.9 h3.5M559.4 407.9 h-3.5M340.8 372.75 h3.5M559.4 372.75 h-3.5M340.8 337.6 h3.5M559.4 337.6 h-3.5M340.8 302.45 h3.5M559.4 302.45 h-3.5M340.8 267.3 h3.5M559.4 267.3 h-3.5M340.8 425.48 h1.9M559.4 425.48 h-1.9M340.8 390.33 h1.9M559.4 390.33 h-1.9M340.8 355.18 h1.9M559.4 355.18 h-1.9M340.8 320.03 h1.9M559.4 320.03 h-1.9M340.8 284.88 h1.9M559.4 284.88 h-1.9" stroke="#231815" stroke-width="1.2" fill="none"/>
<rect x="340.8" y="267.3" width="218.6" height="175.75" fill="none" stroke="#231815" stroke-width="1.35"/>
<text transform="translate(340.8 458.2) scale(0.870 1)" font-size="15.5" fill="#231815" text-anchor="middle">0</text>
<text transform="translate(413.67 458.2) scale(0.870 1)" font-size="15.5" fill="#231815" text-anchor="middle">1</text>
<text transform="translate(486.53 458.2) scale(0.870 1)" font-size="15.5" fill="#231815" text-anchor="middle">2</text>
<text transform="translate(559.4 458.2) scale(0.870 1)" font-size="15.5" fill="#231815" text-anchor="middle">3</text>
<text transform="translate(336.6 448.05) scale(0.870 1)" font-size="15.5" fill="#231815" text-anchor="end">0</text>
<text transform="translate(336.6 412.9) scale(0.870 1)" font-size="15.5" fill="#231815" text-anchor="end">1</text>
<text transform="translate(336.6 377.75) scale(0.870 1)" font-size="15.5" fill="#231815" text-anchor="end">2</text>
<text transform="translate(336.6 342.6) scale(0.870 1)" font-size="15.5" fill="#231815" text-anchor="end">3</text>
<text transform="translate(336.6 307.45) scale(0.870 1)" font-size="15.5" fill="#231815" text-anchor="end">4</text>
<text transform="translate(336.6 272.3) scale(0.870 1)" font-size="15.5" fill="#231815" text-anchor="end">5</text>
<text transform="translate(349.6 292.2) scale(0.993 1)" font-size="26.5" fill="#231815">(e)</text>
<text x="351.6" y="330.4" font-size="19.2" fill="#231815">type-I</text>
<text x="477.6" y="347.7" font-size="19.2" fill="#231815">type-II</text>
<path d="M452.48 457.1 L449.46 469.18 C448.71 472.2 451.58 472.2 453.84 470.99 L455.05 469.63" stroke="#000" stroke-width="1.84" fill="none" stroke-linejoin="round"/>
<path d="M447.5 460.95 L456.26 460.95" stroke="#000" stroke-width="1.43" fill="none"/>
<g transform="translate(317.7 389.8) rotate(-90)">
<text transform="translate(0 0) scale(0.743 1)" font-size="27" fill="#000" stroke="#000" stroke-width="0.3">Δ</text>
<text transform="translate(14.7 0) scale(0.850 1)" font-size="26.5" fill="#000" font-style="italic" stroke="#000" stroke-width="0.35">ω</text>
<text transform="translate(40.8 0) scale(0.801 1)" font-size="27" fill="#000">(</text>
<path d="M56.41 -16.4 L53.13 -3.28 C52.31 0 55.43 0 57.89 -1.31 L59.2 -2.79" stroke="#000" stroke-width="2" fill="none" stroke-linejoin="round"/>
<path d="M51 -12.22 L60.51 -12.22" stroke="#000" stroke-width="1.56" fill="none"/>
<text transform="translate(64.3 0) scale(0.867 1)" font-size="27" fill="#000">)</text>
</g>
<rect x="644" y="267.3" width="73" height="175.75" fill="#dbdbdb"/>
<rect x="717" y="267.3" width="145.4" height="175.75" fill="#c7c7c7"/>
<clipPath id="clipf"><rect x="644" y="266.6" width="219.2" height="176.45"/></clipPath>
<g clip-path="url(#clipf)" fill="none" stroke-linejoin="round">
<path d="M716.3 268.8 V443.05" stroke="#17a04e" stroke-width="1.9" stroke-dasharray="3.1 3.8"/>
<path d="M716.8 295.15 L716.8 295.15 L716.8 295.15 L716.81 295.15 L716.81 295.15 L716.82 295.15 L716.83 295.15 L716.84 295.15 L716.86 295.15 L716.87 295.16 L716.89 295.16 L716.91 295.16 L716.93 295.16 L716.95 295.17 L716.98 295.17 L717 295.18 L717.03 295.18 L717.06 295.19 L717.09 295.2 L717.13 295.2 L717.16 295.21 L717.2 295.22 L717.24 295.23 L717.28 295.24 L717.32 295.26 L717.37 295.27 L717.42 295.29 L717.46 295.3 L717.51 295.32 L717.57 295.34 L717.62 295.36 L717.67 295.38 L717.73 295.4 L717.79 295.43 L717.85 295.45 L717.91 295.48 L717.98 295.51 L718.05 295.54 L718.11 295.57 L718.18 295.6 L718.26 295.64 L718.33 295.67 L718.41 295.71 L718.48 295.75 L718.56 295.79 L718.64 295.84 L718.73 295.88 L718.81 295.93 L718.9 295.98 L718.98 296.03 L719.08 296.08 L719.17 296.14 L719.26 296.19 L719.36 296.25 L719.45 296.31 L719.55 296.38 L719.65 296.44 L719.76 296.51 L719.86 296.58 L719.97 296.65 L720.08 296.73 L720.19 296.8 L720.3 296.88 L720.41 296.96 L720.53 297.04 L720.64 297.13 L720.76 297.22 L720.88 297.31 L721.01 297.4 L721.13 297.49 L721.26 297.59 L721.39 297.69 L721.52 297.79 L721.65 297.89 L721.78 298 L721.92 298.11 L722.06 298.22 L722.2 298.33 L722.34 298.45 L722.48 298.57 L722.62 298.69 L722.77 298.81 L722.92 298.94 L723.07 299.07 L723.22 299.2 L723.37 299.33 L723.53 299.46 L723.69 299.6 L723.85 299.74 L724.01 299.89 L724.17 300.03 L724.34 300.18 L724.5 300.33 L724.67 300.48 L724.84 300.64 L725.01 300.79 L725.19 300.95 L725.36 301.11 L725.54 301.28 L725.72 301.45 L725.9 301.61 L726.08 301.79 L726.27 301.96 L726.45 302.14 L726.64 302.32 L726.83 302.5 L727.02 302.68 L727.22 302.87 L727.41 303.05 L727.61 303.24 L727.81 303.44 L728.01 303.63 L728.22 303.83 L728.42 304.03 L728.63 304.23 L728.83 304.43 L729.04 304.64 L729.26 304.85 L729.47 305.06 L729.69 305.27 L729.9 305.48 L730.12 305.7 L730.34 305.92 L730.57 306.14 L730.79 306.36 L731.02 306.58 L731.25 306.81 L731.48 307.04 L731.71 307.27 L731.94 307.5 L732.18 307.74 L732.42 307.97 L732.66 308.21 L732.9 308.45 L733.14 308.69 L733.38 308.94 L733.63 309.18 L733.88 309.43 L734.13 309.68 L734.38 309.93 L734.64 310.18 L734.89 310.44 L735.15 310.69 L735.41 310.95 L735.67 311.21 L735.93 311.47 L736.2 311.73 L736.46 312 L736.73 312.26 L737 312.53 L737.27 312.8 L737.55 313.07 L737.82 313.34 L738.1 313.61 L738.38 313.88 L738.66 314.16 L738.95 314.43 L739.23 314.71 L739.52 314.99 L739.81 315.27 L740.1 315.55 L740.39 315.84 L740.68 316.12 L740.98 316.41 L741.28 316.69 L741.57 316.98 L741.88 317.27 L742.18 317.56 L742.48 317.85 L742.79 318.14 L743.1 318.43 L743.41 318.73 L743.72 319.02 L744.04 319.32 L744.35 319.61 L744.67 319.91 L744.99 320.21 L745.31 320.51 L745.63 320.8 L745.96 321.11 L746.28 321.41 L746.61 321.71 L746.94 322.01 L747.27 322.31 L747.61 322.62 L747.94 322.92 L748.28 323.23 L748.62 323.53 L748.96 323.84 L749.31 324.15 L749.65 324.46 L750 324.76 L750.35 325.07 L750.7 325.38 L751.05 325.69 L751.4 326 L751.76 326.31 L752.12 326.62 L752.48 326.93 L752.84 327.24 L753.2 327.56 L753.56 327.87 L753.93 328.18 L754.3 328.49 L754.67 328.81 L755.04 329.12 L755.42 329.43 L755.79 329.75 L756.17 330.06 L756.55 330.37 L756.93 330.69 L757.31 331 L757.7 331.32 L758.09 331.63 L758.47 331.94 L758.86 332.26 L759.26 332.57 L759.65 332.89 L760.05 333.2 L760.44 333.52 L760.84 333.83 L761.25 334.15 L761.65 334.46 L762.05 334.77 L762.46 335.09 L762.87 335.4 L763.28 335.72 L763.69 336.03 L764.11 336.34 L764.52 336.66 L764.94 336.97 L765.36 337.28 L765.78 337.6 L766.2 337.91 L766.63 338.22 L767.05 338.53 L767.48 338.85 L767.91 339.16 L768.35 339.47 L768.78 339.78 L769.22 340.09 L769.65 340.4 L770.09 340.71 L770.53 341.02 L770.98 341.33 L771.42 341.64 L771.87 341.95 L772.32 342.26 L772.77 342.57 L773.22 342.87 L773.67 343.18 L774.13 343.49 L774.59 343.79 L775.05 344.1 L775.51 344.41 L775.97 344.71 L776.44 345.02 L776.9 345.32 L777.37 345.62 L777.84 345.93 L778.32 346.23 L778.79 346.53 L779.27 346.83 L779.74 347.13 L780.22 347.43 L780.7 347.73 L781.19 348.03 L781.67 348.33 L782.16 348.63 L782.65 348.93 L783.14 349.22 L783.63 349.52 L784.13 349.81 L784.62 350.11 L785.12 350.4 L785.62 350.7 L786.12 350.99 L786.62 351.28 L787.13 351.58 L787.64 351.87 L788.14 352.16 L788.65 352.45 L789.17 352.74 L789.68 353.02 L790.2 353.31 L790.71 353.6 L791.23 353.89 L791.76 354.17 L792.28 354.46 L792.8 354.74 L793.33 355.02 L793.86 355.31 L794.39 355.59 L794.92 355.87 L795.46 356.15 L795.99 356.43 L796.53 356.71 L797.07 356.99 L797.61 357.27 L798.15 357.55 L798.7 357.82 L799.25 358.1 L799.8 358.37 L800.35 358.65 L800.9 358.92 L801.45 359.19 L802.01 359.46 L802.57 359.73 L803.13 360.01 L803.69 360.27 L804.25 360.54 L804.82 360.81 L805.38 361.08 L805.95 361.34 L806.52 361.61 L807.09 361.88 L807.67 362.14 L808.24 362.4 L808.82 362.66 L809.4 362.93 L809.98 363.19 L810.57 363.45 L811.15 363.71 L811.74 363.96 L812.33 364.22 L812.92 364.48 L813.51 364.74 L814.11 364.99 L814.7 365.25 L815.3 365.5 L815.9 365.75 L816.5 366 L817.1 366.25 L817.71 366.51 L818.32 366.75 L818.92 367 L819.54 367.25 L820.15 367.5 L820.76 367.75 L821.38 367.99 L822 368.24 L822.62 368.48 L823.24 368.72 L823.86 368.96 L824.49 369.21 L825.11 369.45 L825.74 369.69 L826.37 369.93 L827 370.16 L827.64 370.4 L828.27 370.64 L828.91 370.87 L829.55 371.11 L830.19 371.34 L830.84 371.58 L831.48 371.81 L832.13 372.04 L832.78 372.27 L833.43 372.5 L834.08 372.73 L834.74 372.96 L835.39 373.19 L836.05 373.42 L836.71 373.64 L837.37 373.87 L838.03 374.09 L838.7 374.32 L839.37 374.54 L840.04 374.76 L840.71 374.98 L841.38 375.2 L842.05 375.42 L842.73 375.64 L843.41 375.86 L844.09 376.08 L844.77 376.29 L845.45 376.51 L846.14 376.73 L846.82 376.94 L847.51 377.15 L848.2 377.37 L848.9 377.58 L849.59 377.79 L850.29 378 L850.98 378.21 L851.68 378.42 L852.39 378.63 L853.09 378.83 L853.8 379.04 L854.5 379.25 L855.21 379.45 L855.92 379.66 L856.63 379.86 L857.35 380.06 L858.06 380.26 L858.78 380.47 L859.5 380.67 L860.22 380.87 L860.95 381.07 L861.67 381.26 L862.4 381.46" stroke="#0000ff" stroke-width="2.3"/>
<path d="M716.8 295.15 L716.8 296.09 L716.8 297.03 L716.81 297.97 L716.81 298.92 L716.82 299.86 L716.83 300.8 L716.84 301.74 L716.86 302.68 L716.87 303.61 L716.89 304.55 L716.91 305.49 L716.93 306.43 L716.95 307.36 L716.98 308.3 L717 309.23 L717.03 310.16 L717.06 311.09 L717.09 312.02 L717.13 312.95 L717.16 313.88 L717.2 314.81 L717.24 315.73 L717.28 316.65 L717.32 317.57 L717.37 318.49 L717.42 319.41 L717.46 320.32 L717.51 321.24 L717.57 322.15 L717.62 323.06 L717.67 323.96 L717.73 324.87 L717.79 325.77 L717.85 326.67 L717.91 327.57 L717.98 328.46 L718.05 329.36 L718.11 330.25 L718.18 331.13 L718.26 332.02 L718.33 332.9 L718.41 333.78 L718.48 334.65 L718.56 335.52 L718.64 336.39 L718.73 337.26 L718.81 338.12 L718.9 338.98 L718.98 339.84 L719.08 340.69 L719.17 341.55 L719.26 342.39 L719.36 343.24 L719.45 344.08 L719.55 344.91 L719.65 345.74 L719.76 346.57 L719.86 347.4 L719.97 348.22 L720.08 349.04 L720.19 349.85 L720.3 350.66 L720.41 351.47 L720.53 352.27 L720.64 353.07 L720.76 353.86 L720.88 354.65 L721.01 355.44 L721.13 356.22 L721.26 357 L721.39 357.77 L721.52 358.54 L721.65 359.31 L721.78 360.07 L721.92 360.83 L722.06 361.58 L722.2 362.33 L722.34 363.07 L722.48 363.81 L722.62 364.55 L722.77 365.28 L722.92 366 L723.07 366.73 L723.22 367.44 L723.37 368.16 L723.53 368.86 L723.69 369.57 L723.85 370.27 L724.01 370.96 L724.17 371.65 L724.34 372.34 L724.5 373.02 L724.67 373.69 L724.84 374.37 L725.01 375.03 L725.19 375.7 L725.36 376.35 L725.54 377.01 L725.72 377.66 L725.9 378.3 L726.08 378.94 L726.27 379.57 L726.45 380.2 L726.64 380.83 L726.83 381.45 L727.02 382.06 L727.22 382.68 L727.41 383.28 L727.61 383.88 L727.81 384.48 L728.01 385.07 L728.22 385.66 L728.42 386.25 L728.63 386.82 L728.83 387.4 L729.04 387.97 L729.26 388.53 L729.47 389.09 L729.69 389.65 L729.9 390.2 L730.12 390.75 L730.34 391.29 L730.57 391.83 L730.79 392.36 L731.02 392.89 L731.25 393.41 L731.48 393.93 L731.71 394.45 L731.94 394.96 L732.18 395.46 L732.42 395.97 L732.66 396.46 L732.9 396.96 L733.14 397.44 L733.38 397.93 L733.63 398.41 L733.88 398.88 L734.13 399.35 L734.38 399.82 L734.64 400.28 L734.89 400.74 L735.15 401.2 L735.41 401.65 L735.67 402.09 L735.93 402.53 L736.2 402.97 L736.46 403.41 L736.73 403.83 L737 404.26 L737.27 404.68 L737.55 405.1 L737.82 405.51 L738.1 405.92 L738.38 406.33 L738.66 406.73 L738.95 407.12 L739.23 407.52 L739.52 407.91 L739.81 408.29 L740.1 408.67 L740.39 409.05 L740.68 409.43 L740.98 409.8 L741.28 410.17 L741.57 410.53 L741.88 410.89 L742.18 411.24 L742.48 411.6 L742.79 411.95 L743.1 412.29 L743.41 412.63 L743.72 412.97 L744.04 413.31 L744.35 413.64 L744.67 413.97 L744.99 414.29 L745.31 414.61 L745.63 414.93 L745.96 415.24 L746.28 415.55 L746.61 415.86 L746.94 416.17 L747.27 416.47 L747.61 416.77 L747.94 417.06 L748.28 417.35 L748.62 417.64 L748.96 417.93 L749.31 418.21 L749.65 418.49 L750 418.77 L750.35 419.04 L750.7 419.31 L751.05 419.58 L751.4 419.85 L751.76 420.11 L752.12 420.37 L752.48 420.62 L752.84 420.88 L753.2 421.13 L753.56 421.38 L753.93 421.62 L754.3 421.86 L754.67 422.1 L755.04 422.34 L755.42 422.58 L755.79 422.81 L756.17 423.04 L756.55 423.27 L756.93 423.49 L757.31 423.71 L757.7 423.93 L758.09 424.15 L758.47 424.36 L758.86 424.58 L759.26 424.79 L759.65 424.99 L760.05 425.2 L760.44 425.4 L760.84 425.6 L761.25 425.8 L761.65 426 L762.05 426.19 L762.46 426.38 L762.87 426.57 L763.28 426.76 L763.69 426.95 L764.11 427.13 L764.52 427.31 L764.94 427.49 L765.36 427.67 L765.78 427.84 L766.2 428.01 L766.63 428.18 L767.05 428.35 L767.48 428.52 L767.91 428.69 L768.35 428.85 L768.78 429.01 L769.22 429.17 L769.65 429.33 L770.09 429.48 L770.53 429.64 L770.98 429.79 L771.42 429.94 L771.87 430.09 L772.32 430.24 L772.77 430.38 L773.22 430.53 L773.67 430.67 L774.13 430.81 L774.59 430.95 L775.05 431.09 L775.51 431.22 L775.97 431.36 L776.44 431.49 L776.9 431.62 L777.37 431.75 L777.84 431.88 L778.32 432 L778.79 432.13 L779.27 432.25 L779.74 432.37 L780.22 432.49 L780.7 432.61 L781.19 432.73 L781.67 432.85 L782.16 432.96 L782.65 433.08 L783.14 433.19 L783.63 433.3 L784.13 433.41 L784.62 433.52 L785.12 433.63 L785.62 433.73 L786.12 433.84 L786.62 433.94 L787.13 434.04 L787.64 434.14 L788.14 434.24 L788.65 434.34 L789.17 434.44 L789.68 434.54 L790.2 434.63 L790.71 434.73 L791.23 434.82 L791.76 434.91 L792.28 435 L792.8 435.09 L793.33 435.18 L793.86 435.27 L794.39 435.35 L794.92 435.44 L795.46 435.53 L795.99 435.61 L796.53 435.69 L797.07 435.77 L797.61 435.85 L798.15 435.93 L798.7 436.01 L799.25 436.09 L799.8 436.17 L800.35 436.24 L800.9 436.32 L801.45 436.39 L802.01 436.47 L802.57 436.54 L803.13 436.61 L803.69 436.68 L804.25 436.75 L804.82 436.82 L805.38 436.89 L805.95 436.96 L806.52 437.03 L807.09 437.09 L807.67 437.16 L808.24 437.22 L808.82 437.29 L809.4 437.35 L809.98 437.41 L810.57 437.47 L811.15 437.53 L811.74 437.6 L812.33 437.65 L812.92 437.71 L813.51 437.77 L814.11 437.83 L814.7 437.89 L815.3 437.94 L815.9 438 L816.5 438.05 L817.1 438.11 L817.71 438.16 L818.32 438.21 L818.92 438.27 L819.54 438.32 L820.15 438.37 L820.76 438.42 L821.38 438.47 L822 438.52 L822.62 438.57 L823.24 438.62 L823.86 438.66 L824.49 438.71 L825.11 438.76 L825.74 438.8 L826.37 438.85 L827 438.89 L827.64 438.94 L828.27 438.98 L828.91 439.02 L829.55 439.07 L830.19 439.11 L830.84 439.15 L831.48 439.19 L832.13 439.23 L832.78 439.28 L833.43 439.32 L834.08 439.35 L834.74 439.39 L835.39 439.43 L836.05 439.47 L836.71 439.51 L837.37 439.55 L838.03 439.58 L838.7 439.62 L839.37 439.66 L840.04 439.69 L840.71 439.73 L841.38 439.76 L842.05 439.8 L842.73 439.83 L843.41 439.86 L844.09 439.9 L844.77 439.93 L845.45 439.96 L846.14 439.99 L846.82 440.03 L847.51 440.06 L848.2 440.09 L848.9 440.12 L849.59 440.15 L850.29 440.18 L850.98 440.21 L851.68 440.24 L852.39 440.27 L853.09 440.3 L853.8 440.33 L854.5 440.35 L855.21 440.38 L855.92 440.41 L856.63 440.44 L857.35 440.46 L858.06 440.49 L858.78 440.52 L859.5 440.54 L860.22 440.57 L860.95 440.59 L861.67 440.62 L862.4 440.64" stroke="#000" stroke-width="2.7"/>
<path d="M644 295.15 H716.8" stroke="#000" stroke-width="2.7"/>
<path d="M644 295.15 H716.3" stroke="#e00000" stroke-width="1.9"/>
</g>
<path d="M644 443.05 v-3.5M644 267.3 v3.5M716.8 443.05 v-3.5M716.8 267.3 v3.5M789.6 443.05 v-3.5M789.6 267.3 v3.5M862.4 443.05 v-3.5M862.4 267.3 v3.5M680.4 443.05 v-1.9M680.4 267.3 v1.9M753.2 443.05 v-1.9M753.2 267.3 v1.9M826 443.05 v-1.9M826 267.3 v1.9M644 443.05 h3.5M862.4 443.05 h-3.5M644 413.47 h3.5M862.4 413.47 h-3.5M644 383.89 h3.5M862.4 383.89 h-3.5M644 354.31 h3.5M862.4 354.31 h-3.5M644 324.73 h3.5M862.4 324.73 h-3.5M644 295.15 h3.5M862.4 295.15 h-3.5M644 428.26 h1.9M862.4 428.26 h-1.9M644 398.68 h1.9M862.4 398.68 h-1.9M644 369.1 h1.9M862.4 369.1 h-1.9M644 339.52 h1.9M862.4 339.52 h-1.9M644 309.94 h1.9M862.4 309.94 h-1.9M644 280.36 h1.9M862.4 280.36 h-1.9" stroke="#231815" stroke-width="1.2" fill="none"/>
<rect x="644" y="267.3" width="218.4" height="175.75" fill="none" stroke="#231815" stroke-width="1.35"/>
<text transform="translate(644 458.2) scale(0.870 1)" font-size="15.5" fill="#231815" text-anchor="middle">0</text>
<text transform="translate(716.8 458.2) scale(0.870 1)" font-size="15.5" fill="#231815" text-anchor="middle">1</text>
<text transform="translate(789.6 458.2) scale(0.870 1)" font-size="15.5" fill="#231815" text-anchor="middle">2</text>
<text transform="translate(862.4 458.2) scale(0.870 1)" font-size="15.5" fill="#231815" text-anchor="middle">3</text>
<text transform="translate(637.8 448.05) scale(0.870 1)" font-size="15.5" fill="#231815" text-anchor="end">0.0</text>
<text transform="translate(637.8 418.47) scale(0.870 1)" font-size="15.5" fill="#231815" text-anchor="end">0.2</text>
<text transform="translate(637.8 388.89) scale(0.870 1)" font-size="15.5" fill="#231815" text-anchor="end">0.4</text>
<text transform="translate(637.8 359.31) scale(0.870 1)" font-size="15.5" fill="#231815" text-anchor="end">0.6</text>
<text transform="translate(637.8 329.73) scale(0.870 1)" font-size="15.5" fill="#231815" text-anchor="end">0.8</text>
<text transform="translate(637.8 300.15) scale(0.870 1)" font-size="15.5" fill="#231815" text-anchor="end">1.0</text>
<text transform="translate(647.8 288.3) scale(1.021 1)" font-size="25" fill="#231815">(f)</text>
<text x="659.6" y="330.6" font-size="19.2" fill="#231815">type-I</text>
<text x="758.7" y="303.8" font-size="19.2" fill="#231815">type-II</text>
<path d="M757.48 457.1 L754.46 469.18 C753.71 472.2 756.58 472.2 758.84 470.99 L760.05 469.63" stroke="#000" stroke-width="1.84" fill="none" stroke-linejoin="round"/>
<path d="M752.5 460.95 L761.26 460.95" stroke="#000" stroke-width="1.43" fill="none"/>
<text transform="translate(796.3 344.1) scale(0.810 1)" font-size="19.5" fill="#000">Γ</text>
<text transform="translate(806.94 333.91) scale(1.122 1)" font-size="15.6" fill="#000">asymp</text>
<text transform="translate(804.01 349.42) scale(1.132 1)" font-size="15.99" fill="#000" font-style="italic" letter-spacing="1">yy</text>
<text transform="translate(750.6 407.6) scale(0.810 1)" font-size="22" fill="#000">Γ</text>
<text transform="translate(762.6 396.1) scale(1.110 1)" font-size="17.6" fill="#000">asymp</text>
<text transform="translate(759.3 413.6) scale(1.093 1)" font-size="18.04" fill="#000" font-style="italic" letter-spacing="1">xx</text>
<g transform="translate(604 401.4) rotate(-90)">
<text transform="translate(0 0) scale(0.959 1)" font-size="22" fill="#000">Γ</text>
<text transform="translate(14.4 -9.7) scale(1.048 1)" font-size="17" fill="#000" stroke="#000" stroke-width="0.2">asymp</text>
<text transform="translate(7.6 5.6) scale(1.515 1)" font-size="16" fill="#000" font-style="italic" letter-spacing="2">jj</text>
<text transform="translate(70.8 0) scale(0.907 1)" font-size="24.5" fill="#000">(</text>
<path d="M85.16 -13.2 L82.52 -2.64 C81.86 0 84.36 0 86.34 -1.06 L87.4 -2.24" stroke="#000" stroke-width="1.61" fill="none" stroke-linejoin="round"/>
<path d="M80.8 -9.83 L88.46 -9.83" stroke="#000" stroke-width="1.25" fill="none"/>
<text transform="translate(96.2 0) scale(0.956 1)" font-size="24.5" fill="#000">)</text>
</g>
<defs>
<linearGradient id="gTop" x1="0" y1="0" x2="1" y2="0"><stop offset="0" stop-color="#e4e4e4"/><stop offset="0.6" stop-color="#dcdcdc"/><stop offset="1" stop-color="#cdcdcd"/></linearGradient>
<linearGradient id="gBody" x1="0" y1="0" x2="1" y2="0"><stop offset="0" stop-color="#b0b0b0"/><stop offset="0.06" stop-color="#9d9d9d"/><stop offset="0.55" stop-color="#a1a1a1"/><stop offset="0.85" stop-color="#b4b4b4"/><stop offset="1" stop-color="#c8c8c8"/></linearGradient>
<linearGradient id="gGreen" x1="0" y1="0" x2="1" y2="0"><stop offset="0" stop-color="#0c7d12"/><stop offset="0.6" stop-color="#0a7a10"/><stop offset="1" stop-color="#16951c"/></linearGradient>
<linearGradient id="gPurp" gradientUnits="userSpaceOnUse" x1="142.75" y1="166.5" x2="218.5" y2="231.8"><stop offset="0" stop-color="#b7abf8"/><stop offset="0.22" stop-color="#a699f2"/><stop offset="0.55" stop-color="#9587ea"/><stop offset="1" stop-color="#998cec"/></linearGradient>
<linearGradient id="gPurpLow" gradientUnits="userSpaceOnUse" x1="100" y1="0" x2="265" y2="0"><stop offset="0" stop-color="#a598f3"/><stop offset="0.45" stop-color="#afa2f9"/><stop offset="1" stop-color="#b7aafc"/></linearGradient>
</defs>
<path d="M98.7 217.7 C100.88 218.62 105.98 221.72 111.8 223.2 C117.62 224.68 127.72 225.9 133.6 226.6 C139.48 227.3 144.85 227.27 147.1 227.4  L147.1 227.4 C148.48 226.73 150.38 225.72 155.4 223.4 C160.42 221.08 169.93 216.6 177.2 213.5 C184.47 210.4 191.75 207.17 199 204.8 C206.25 202.43 213.45 200.5 220.7 199.3 C227.95 198.1 235.42 197.78 242.5 197.6 C249.58 197.42 259.75 198.1 263.2 198.2  L264.3 178.3 L266.5 146.6 L186.8 115.4 Z" fill="url(#gPurpLow)"/>
<path d="M186.8 115.4 L266.5 146.6 L264.3 178.3 L264.3 178.3 C260.67 178.42 249.77 178.45 242.5 179 C235.23 179.55 227.95 180.15 220.7 181.6 C213.45 183.05 206.25 185.17 199 187.7 C191.75 190.23 184.47 193.63 177.2 196.8 C169.93 199.97 162.67 204.07 155.4 206.7 C148.13 209.33 143.05 210.77 133.6 212.6 C124.15 214.43 104.52 216.85 98.7 217.7  Z" fill="url(#gPurp)"/>
<path d="M266.5 146.6 L269.9 178 L264.3 177.4 Z" fill="#4f4b88"/>
<path d="M83.3 53.4 L85.7 75.7 L105.7 83 L187.3 114.6 L246.8 43 L200 50 Z" fill="url(#gBody)"/>
<path d="M89.3 34.2 C120 33.2 160 33 190 33.8 C215 34.8 236 38 246.8 43 C236 46.6 222 49.2 207.6 50.6 C170 53.8 120 54 83.3 53.4 L88.4 52 Z" fill="url(#gTop)"/>
<path d="M105.7 83.4 L186.8 114.8 L213.3 83.4 Z" fill="url(#gGreen)"/>
<ellipse cx="159.5" cy="83.4" rx="53.8" ry="4.7" fill="#2fb135"/>
<path d="M105.7 83.4 A53.8 4.7 0 0 1 213.3 83.4" stroke="#d8101a" stroke-width="1.1" fill="none"/>
<path d="M105.7 83.4 A53.8 4.7 0 0 0 213.3 83.4" stroke="#f20d1a" stroke-width="1.9" fill="none"/>
<path d="M104.8 210.8 C137.5 180 174 152 214.4 127.1" stroke="#e23a63" stroke-opacity="0.85" stroke-width="1.5" fill="none"/>
<path d="M104.8 210.8 C142.5 187.5 181 157.5 214.4 127.1" stroke="#f0101e" stroke-width="1.8" fill="none"/>
<path d="M105.5 210.8 V87" stroke="#231815" stroke-width="1.5" fill="none"/>
<path d="M105.5 83 L109.7 93.4 L105.5 90.49 L101.3 93.4 Z" fill="#231815"/>
<path d="M213.6 127.3 V87" stroke="#231815" stroke-width="1.5" fill="none"/>
<path d="M213.6 83 L217.8 93.4 L213.6 90.49 L209.4 93.4 Z" fill="#231815"/>
<path d="M132.4 192 V94 M199.5 139 V94" stroke="#1aa7ec" stroke-width="1.9" stroke-dasharray="3 2.7" fill="none"/>
<path d="M132.4 86.8 L136.3 96 L132.4 93.7 L128.5 96 Z" fill="#1aa7ec"/>
<path d="M199.5 86.8 L203.4 96 L199.5 93.7 L195.6 96 Z" fill="#1aa7ec"/>
<path d="M105.4 69.2 V83 M186.7 69.2 V84.2 M213.6 69.2 V83" stroke="#231815" stroke-width="1.3" fill="none"/>
<path d="M108.1 73.5 H183.9" stroke="#231815" stroke-width="1.1" fill="none"/>
<path d="M105.6 73.5 L110.2 71.5 L108.82 73.5 L110.2 75.5 Z" fill="#231815"/>
<path d="M186.4 73.5 L181.8 75.5 L183.18 73.5 L181.8 71.5 Z" fill="#231815"/>
<path d="M189.7 76.4 H210.7" stroke="#231815" stroke-width="1.1" fill="none"/>
<path d="M187.2 76.4 L191.8 74.4 L190.42 76.4 L191.8 78.4 Z" fill="#231815"/>
<path d="M213.2 76.4 L208.6 78.4 L209.98 76.4 L208.6 74.4 Z" fill="#231815"/>
<text transform="translate(136.2 67.3) scale(1.180 1)" font-size="16.8" fill="#231815" font-style="italic" stroke="#231815" stroke-width="0.25">k</text>
<text transform="translate(145.5 71.1) scale(1.039 1)" font-size="11.5" fill="#231815" font-style="italic" stroke="#231815" stroke-width="0.25">F</text>
<text transform="translate(145.9 62.2) scale(1.071 1)" font-size="11.2" fill="#231815" stroke="#231815" stroke-width="0.3">2</text>
<text transform="translate(191.6 69.5) scale(1.194 1)" font-size="16.8" fill="#231815" font-style="italic" stroke="#231815" stroke-width="0.25">k</text>
<text transform="translate(200.9 73.2) scale(1.011 1)" font-size="11.5" fill="#231815" font-style="italic" stroke="#231815" stroke-width="0.25">F</text>
<text transform="translate(202.3 64.3) scale(0.893 1)" font-size="11.2" fill="#231815" stroke="#231815" stroke-width="0.3">1</text>
<text transform="translate(78.8 144.8) scale(0.944 1)" font-size="18" fill="#231815" font-style="italic" stroke="#231815" stroke-width="0.3">ω</text>
<text transform="translate(92.3 149.03) scale(0.974 1)" font-size="13.68" fill="#231815" stroke="#231815" stroke-width="0.35">2</text>
<text transform="translate(218.7 116.7) scale(0.936 1)" font-size="18" fill="#231815" font-style="italic" stroke="#231815" stroke-width="0.3">ω</text>
<text transform="translate(232.1 120.93) scale(0.974 1)" font-size="13.68" fill="#231815" stroke="#231815" stroke-width="0.35">1</text>
<path d="M49.3 115.2 L49.3 73.56" stroke="#231815" stroke-width="2.5" fill="none"/>
<path d="M49.3 66.6 L53.9 78.2 L49.3 74.72 L44.7 78.2 Z" fill="#231815"/>
<path d="M48.1 114 L86.84 114" stroke="#231815" stroke-width="2.5" fill="none"/>
<path d="M93.8 114 L82.2 118.6 L85.68 114 L82.2 109.4 Z" fill="#231815"/>
<path d="M49.9 113.2 L37.32 132.38" stroke="#231815" stroke-width="2.5" fill="none"/>
<path d="M33.5 138.2 L36.02 125.98 L37.95 131.41 L43.71 131.02 Z" fill="#231815"/>
<text transform="translate(1.8 72.7) scale(1.043 1)" font-size="18" fill="#231815" font-style="italic">ε</text>
<text transform="translate(10.4 77) scale(1.011 1)" font-size="13.5" fill="#231815">+</text>
<text transform="translate(10.9 66) scale(1.294 1)" font-size="13.2" fill="#231815" font-style="italic">λ</text>
<text transform="translate(20.8 72.7) scale(0.918 1)" font-size="18" fill="#231815">(</text>
<text transform="translate(27.9 72.7) scale(1.222 1)" font-size="18" fill="#231815" font-style="italic" font-weight="bold">k</text>
<text transform="translate(39.8 72.7) scale(0.867 1)" font-size="18" fill="#231815">)</text>
<text transform="translate(68.5 105.2) scale(1.146 1)" font-size="17.3" fill="#231815" font-style="italic">k</text>
<text transform="translate(78 108) scale(1.191 1)" font-size="14" fill="#231815" font-style="italic">y</text>
<text transform="translate(18.3 123.6) scale(1.127 1)" font-size="17.8" fill="#231815" font-style="italic">k</text>
<text transform="translate(28.4 127.5) scale(1.243 1)" font-size="14.5" fill="#231815" font-style="italic">x</text>
<text transform="translate(59.7 48.9) scale(0.987 1)" font-size="25" fill="#231815">(a)</text>
</g>
</svg></body></html>
